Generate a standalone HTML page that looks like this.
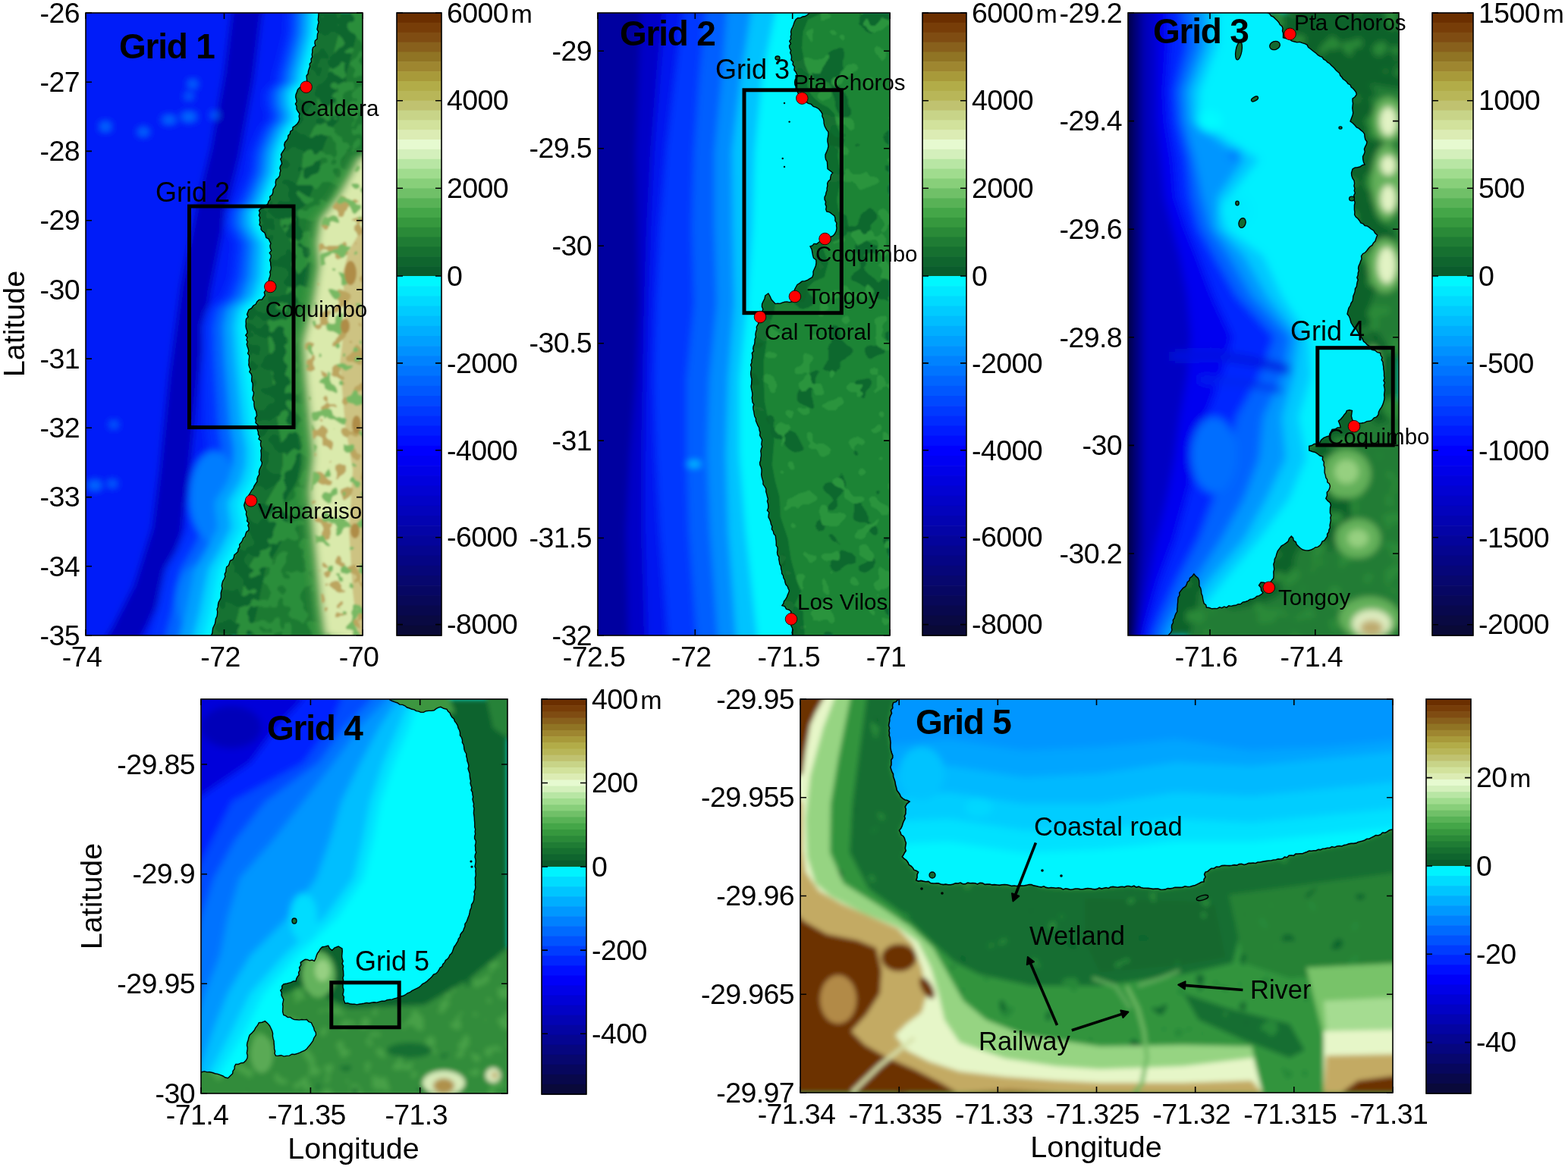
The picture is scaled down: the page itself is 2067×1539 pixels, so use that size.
<!DOCTYPE html><html><head><meta charset="utf-8"><style>html,body{margin:0;padding:0;background:#fff;overflow:hidden}svg{display:block}.t{font-family:'Liberation Sans',Arial,Helvetica,sans-serif;font-size:37.5px;fill:#000;letter-spacing:-0.6px}.tm{font-family:'Liberation Sans',Arial,Helvetica,sans-serif;font-size:37.5px;fill:#000;text-anchor:middle;letter-spacing:-0.6px}.te{font-family:'Liberation Sans',Arial,Helvetica,sans-serif;font-size:37.5px;fill:#000;text-anchor:end;letter-spacing:-0.6px}.b{font-family:'Liberation Sans',Arial,Helvetica,sans-serif;font-size:46px;font-weight:bold;fill:#000;letter-spacing:-1.2px}.s{font-family:'Liberation Sans',Arial,Helvetica,sans-serif;font-size:29.5px;fill:#000}.r{font-family:'Liberation Sans',Arial,Helvetica,sans-serif;font-size:36px;fill:#000}.a{font-family:'Liberation Sans',Arial,Helvetica,sans-serif;font-size:34.5px;fill:#000}.lab{font-family:'Liberation Sans',Arial,Helvetica,sans-serif;font-size:39.5px;fill:#000;text-anchor:middle}</style></head><body>
<svg width="2067" height="1539" viewBox="0 0 2067 1539">
<defs>
<clipPath id="c1"><rect x="113" y="17" width="365" height="821"/></clipPath>
<clipPath id="c2"><rect x="788" y="17" width="385" height="821"/></clipPath>
<clipPath id="c3"><rect x="1487" y="17" width="357" height="821"/></clipPath>
<clipPath id="c4"><rect x="265" y="922" width="404" height="520"/></clipPath>
<clipPath id="c5"><rect x="1055" y="922" width="781" height="519"/></clipPath>
<filter id="mt0" filterUnits="userSpaceOnUse" x="108" y="12" width="375" height="831" color-interpolation-filters="sRGB"><feTurbulence type="fractalNoise" baseFrequency="0.045" numOctaves="2" seed="11"/><feColorMatrix type="matrix" values="0 0 0 0 0.173  0 0 0 0 0.557  0 0 0 0 0.227  1 0 0 0 0"/><feComponentTransfer><feFuncA type="discrete" tableValues="0 0 0 0 1 1 1 1"/></feComponentTransfer></filter><filter id="mt1" filterUnits="userSpaceOnUse" x="108" y="12" width="375" height="831" color-interpolation-filters="sRGB"><feTurbulence type="fractalNoise" baseFrequency="0.05" numOctaves="2" seed="21"/><feColorMatrix type="matrix" values="0 0 0 0 0.737  0 0 0 0 0.647  0 0 0 0 0.373  1 0 0 0 0"/><feComponentTransfer><feFuncA type="discrete" tableValues="0 0 0 0 0 1 1 1"/></feComponentTransfer></filter><filter id="mt2" filterUnits="userSpaceOnUse" x="108" y="12" width="375" height="831" color-interpolation-filters="sRGB"><feTurbulence type="fractalNoise" baseFrequency="0.05" numOctaves="2" seed="5"/><feColorMatrix type="matrix" values="0 0 0 0 0.471  0 0 0 0 0.725  0 0 0 0 0.392  1 0 0 0 0"/><feComponentTransfer><feFuncA type="discrete" tableValues="0 0 0 0 0 1 1 1"/></feComponentTransfer></filter><filter id="mt3" filterUnits="userSpaceOnUse" x="783" y="12" width="395" height="831" color-interpolation-filters="sRGB"><feTurbulence type="fractalNoise" baseFrequency="0.025" numOctaves="2" seed="3"/><feColorMatrix type="matrix" values="0 0 0 0 0.110  0 0 0 0 0.518  0 0 0 0 0.212  1 0 0 0 0"/><feComponentTransfer><feFuncA type="discrete" tableValues="0 0 0 1 1 1 1 1"/></feComponentTransfer></filter><filter id="mt4" filterUnits="userSpaceOnUse" x="783" y="12" width="395" height="831" color-interpolation-filters="sRGB"><feTurbulence type="fractalNoise" baseFrequency="0.04" numOctaves="2" seed="8"/><feColorMatrix type="matrix" values="0 0 0 0 0.173  0 0 0 0 0.580  0 0 0 0 0.235  1 0 0 0 0"/><feComponentTransfer><feFuncA type="discrete" tableValues="0 0 0 0 0 1 1 1"/></feComponentTransfer></filter><filter id="mt5" filterUnits="userSpaceOnUse" x="1482" y="12" width="367" height="831" color-interpolation-filters="sRGB"><feTurbulence type="fractalNoise" baseFrequency="0.04" numOctaves="2" seed="13"/><feColorMatrix type="matrix" values="0 0 0 0 0.165  0 0 0 0 0.541  0 0 0 0 0.220  1 0 0 0 0"/><feComponentTransfer><feFuncA type="discrete" tableValues="0 0 0 0 0 1 1 1"/></feComponentTransfer></filter><filter id="mt6" filterUnits="userSpaceOnUse" x="260" y="917" width="414" height="530" color-interpolation-filters="sRGB"><feTurbulence type="fractalNoise" baseFrequency="0.05" numOctaves="2" seed="17"/><feColorMatrix type="matrix" values="0 0 0 0 0.275  0 0 0 0 0.627  0 0 0 0 0.275  1 0 0 0 0"/><feComponentTransfer><feFuncA type="discrete" tableValues="0 0 0 0 0 1 1 1"/></feComponentTransfer></filter><filter id="mt7" filterUnits="userSpaceOnUse" x="260" y="917" width="414" height="530" color-interpolation-filters="sRGB"><feTurbulence type="fractalNoise" baseFrequency="0.04" numOctaves="2" seed="19"/><feColorMatrix type="matrix" values="0 0 0 0 0.098  0 0 0 0 0.439  0 0 0 0 0.188  1 0 0 0 0"/><feComponentTransfer><feFuncA type="discrete" tableValues="1 1 0 0 0 0 0 0"/></feComponentTransfer></filter><filter id="mt8" filterUnits="userSpaceOnUse" x="1050" y="917" width="791" height="529" color-interpolation-filters="sRGB"><feTurbulence type="fractalNoise" baseFrequency="0.035" numOctaves="2" seed="23"/><feColorMatrix type="matrix" values="0 0 0 0 0.157  0 0 0 0 0.533  0 0 0 0 0.220  1 0 0 0 0"/><feComponentTransfer><feFuncA type="discrete" tableValues="0 0 0 0 0 0 1 1"/></feComponentTransfer></filter><filter id="mt9" filterUnits="userSpaceOnUse" x="1050" y="917" width="791" height="529" color-interpolation-filters="sRGB"><feTurbulence type="fractalNoise" baseFrequency="0.035" numOctaves="2" seed="29"/><feColorMatrix type="matrix" values="0 0 0 0 0.063  0 0 0 0 0.400  0 0 0 0 0.176  1 0 0 0 0"/><feComponentTransfer><feFuncA type="discrete" tableValues="1 1 0 0 0 0 0 0"/></feComponentTransfer></filter><filter id="b1" x="-20%" y="-20%" width="140%" height="140%"><feGaussianBlur stdDeviation="1"/></filter><filter id="b1_5" x="-20%" y="-20%" width="140%" height="140%"><feGaussianBlur stdDeviation="1.5"/></filter><filter id="b3" x="-20%" y="-20%" width="140%" height="140%"><feGaussianBlur stdDeviation="3"/></filter><filter id="b4" x="-20%" y="-20%" width="140%" height="140%"><feGaussianBlur stdDeviation="4"/></filter><filter id="b5" x="-20%" y="-20%" width="140%" height="140%"><feGaussianBlur stdDeviation="5"/></filter><filter id="b6" x="-20%" y="-20%" width="140%" height="140%"><feGaussianBlur stdDeviation="6"/></filter>
</defs>
<rect width="2067" height="1539" fill="#fff"/>
<g clip-path="url(#c1)">
<g filter="url(#b5)"><rect x="93" y="-3" width="405" height="861" fill="rgb(0,28,248)"/><path d="M332.0 0.0 L325.0 17.0 L315.0 100.0 L297.0 200.0 L279.0 274.0 L258.0 380.0 L242.0 500.0 L230.0 620.0 L220.0 700.0 L195.0 780.0 L165.0 838.0 L150.0 860.0" fill="none" stroke="rgb(0,0,190)" stroke-width="40"/><path d="M378.0 5.0 L378.0 17.0 L376.5 45.0 L368.0 78.0 L362.0 100.0 L362.6 108.0 L350.5 118.0 L348.0 125.0 L349.0 140.0 L353.0 150.0 L352.0 160.0 L344.0 168.0 L336.0 185.0 L330.0 201.0 L327.0 228.0 L318.0 250.0 L309.4 269.0 L297.1 277.5 L296.0 296.6 L302.9 310.0 L308.9 321.0 L303.9 365.0 L293.4 392.0 L278.9 403.0 L272.4 408.6 L266.6 430.0 L266.8 475.0 L269.0 530.0 L270.2 563.6 L273.8 591.0 L271.9 613.0 L264.1 635.0 L253.8 650.0 L245.3 663.0 L247.8 696.0 L233.5 724.0 L217.5 751.0 L211.5 779.0 L206.2 806.6 L198.0 838.0 L194.5 850.0 L508.0 868.0 L508.0 -13.0 Z" fill="rgb(0,50,255)"/><path d="M388.8 5.0 L388.8 17.0 L387.3 45.0 L378.8 78.0 L372.8 100.0 L373.4 108.0 L361.3 118.0 L358.8 125.0 L359.8 140.0 L363.8 150.0 L362.8 160.0 L354.8 168.0 L346.8 185.0 L340.8 201.0 L337.8 228.0 L328.8 250.0 L320.6 269.0 L308.6 277.5 L307.8 296.6 L315.0 310.0 L321.3 321.0 L317.2 365.0 L307.3 392.0 L293.1 403.0 L286.7 408.6 L281.4 430.0 L282.5 475.0 L286.0 530.0 L287.9 563.6 L292.1 591.0 L290.7 613.0 L283.3 635.0 L273.4 650.0 L265.2 663.0 L268.5 696.0 L254.2 724.0 L238.2 751.0 L232.2 779.0 L226.9 806.6 L218.7 838.0 L215.2 850.0 L508.0 868.0 L508.0 -13.0 Z" fill="rgb(0,100,255)"/><ellipse cx="282" cy="655" rx="32" ry="60" fill="rgb(0,125,255)"/><ellipse cx="262" cy="790" rx="30" ry="45" fill="rgb(0,125,255)"/><path d="M398.4 5.0 L398.4 17.0 L396.9 45.0 L388.4 78.0 L382.4 100.0 L383.0 108.0 L370.9 118.0 L368.4 125.0 L369.4 140.0 L373.4 150.0 L372.4 160.0 L364.4 168.0 L356.4 185.0 L350.4 201.0 L347.4 228.0 L338.4 250.0 L330.6 269.0 L318.7 277.5 L318.3 296.6 L325.8 310.0 L332.3 321.0 L329.0 365.0 L319.7 392.0 L305.7 403.0 L299.4 408.6 L294.5 430.0 L296.5 475.0 L301.1 530.0 L303.6 563.6 L308.4 591.0 L307.4 613.0 L300.5 635.0 L290.8 650.0 L282.8 663.0 L286.8 696.0 L272.6 724.0 L256.6 751.0 L250.6 779.0 L245.3 806.6 L237.1 838.0 L233.6 850.0 L508.0 868.0 L508.0 -13.0 Z" fill="rgb(0,160,255)"/><path d="M408.0 5.0 L408.0 17.0 L406.5 45.0 L398.0 78.0 L392.0 100.0 L392.6 108.0 L380.5 118.0 L378.0 125.0 L379.0 140.0 L383.0 150.0 L382.0 160.0 L374.0 168.0 L366.0 185.0 L360.0 201.0 L357.0 228.0 L348.0 250.0 L340.5 269.0 L328.8 277.5 L328.9 296.6 L336.5 310.0 L343.3 321.0 L340.9 365.0 L332.0 392.0 L318.3 403.0 L312.1 408.6 L307.6 430.0 L310.5 475.0 L316.2 530.0 L319.3 563.6 L324.7 591.0 L324.1 613.0 L317.6 635.0 L308.2 650.0 L300.5 663.0 L305.1 696.0 L291.0 724.0 L275.0 751.0 L269.0 779.0 L263.7 806.6 L255.5 838.0 L252.0 850.0 L508.0 868.0 L508.0 -13.0 Z" fill="rgb(0,215,255)"/><path d="M415.2 5.0 L415.2 17.0 L413.7 45.0 L405.2 78.0 L399.2 100.0 L399.8 108.0 L387.7 118.0 L385.2 125.0 L386.2 140.0 L390.2 150.0 L389.2 160.0 L381.2 168.0 L373.2 185.0 L367.2 201.0 L364.2 228.0 L355.2 250.0 L348.0 269.0 L336.4 277.5 L336.7 296.6 L344.6 310.0 L351.5 321.0 L349.8 365.0 L341.3 392.0 L327.7 403.0 L321.6 408.6 L317.4 430.0 L321.0 475.0 L327.5 530.0 L331.1 563.6 L336.9 591.0 L336.7 613.0 L330.4 635.0 L321.3 650.0 L313.8 663.0 L318.8 696.0 L304.8 724.0 L288.8 751.0 L282.8 779.0 L277.5 806.6 L269.3 838.0 L265.8 850.0 L508.0 868.0 L508.0 -13.0 Z" fill="rgb(0,245,255)"/><ellipse cx="139" cy="167" rx="7" ry="6" fill="rgb(0,110,255)"/><ellipse cx="249" cy="154" rx="10" ry="6" fill="rgb(0,110,255)"/><ellipse cx="223" cy="158" rx="9" ry="5" fill="rgb(0,110,255)"/><ellipse cx="189" cy="174" rx="7" ry="5" fill="rgb(0,110,255)"/><ellipse cx="283" cy="152" rx="5" ry="4" fill="rgb(0,110,255)"/><ellipse cx="254" cy="111" rx="6" ry="5" fill="rgb(0,110,255)"/><ellipse cx="249" cy="127" rx="5" ry="4" fill="rgb(0,110,255)"/><ellipse cx="125" cy="640" rx="9" ry="6" fill="rgb(0,110,255)"/><ellipse cx="148" cy="638" rx="6" ry="4" fill="rgb(0,110,255)"/><ellipse cx="150" cy="560" rx="5" ry="4" fill="rgb(0,110,255)"/></g>
<clipPath id="l1"><path d="M420.0 5.0 L420.1 8.0 L419.8 11.0 L418.8 14.0 L420.0 17.0 L419.9 20.1 L419.6 23.2 L419.3 26.3 L420.2 29.5 L419.1 32.6 L418.6 35.6 L418.0 38.7 L419.8 41.9 L418.5 45.0 L418.3 48.1 L418.1 51.3 L415.3 53.8 L414.9 56.9 L415.9 60.3 L412.6 62.7 L411.8 65.7 L411.9 68.9 L411.2 71.9 L411.7 75.2 L410.0 78.0 L410.5 81.5 L408.2 84.3 L408.6 87.8 L407.4 90.8 L406.4 93.9 L406.1 97.2 L404.0 100.0 L404.4 104.0 L404.6 108.0 L402.3 110.1 L399.1 111.3 L397.3 114.0 L394.7 115.7 L392.5 118.0 L391.3 121.5 L390.0 125.0 L389.7 128.0 L390.5 131.0 L391.2 134.0 L389.4 137.1 L391.0 140.0 L391.0 143.8 L392.8 147.0 L395.0 150.0 L394.1 153.3 L394.8 156.7 L394.0 160.0 L391.9 163.2 L389.1 165.8 L386.0 168.0 L385.8 171.3 L382.7 173.3 L382.3 176.6 L379.8 178.9 L379.6 182.3 L378.0 185.0 L375.6 187.7 L374.7 191.1 L375.7 195.1 L374.0 198.1 L372.0 201.0 L370.5 203.9 L371.4 207.0 L369.7 209.9 L371.0 213.0 L371.5 216.1 L369.6 219.0 L368.9 221.9 L370.0 225.1 L369.0 228.0 L368.8 231.6 L366.9 234.5 L363.9 236.9 L363.2 240.3 L363.6 244.1 L361.9 247.1 L360.0 250.0 L359.9 253.6 L358.8 256.8 L355.7 259.2 L356.2 263.0 L354.0 265.8 L353.0 269.0 L350.2 271.2 L347.8 273.9 L344.0 274.9 L341.5 277.5 L342.6 280.7 L341.3 283.9 L342.8 287.0 L342.1 290.2 L342.7 293.4 L342.0 296.6 L344.2 298.9 L344.1 302.6 L346.1 305.1 L348.9 307.0 L350.0 310.0 L350.8 313.3 L354.2 315.1 L355.5 318.1 L357.0 321.0 L355.9 324.1 L356.4 327.3 L357.8 330.5 L355.3 333.5 L357.3 336.7 L357.1 339.9 L355.6 343.0 L356.7 346.2 L356.7 349.3 L357.3 352.5 L357.1 355.6 L355.7 358.7 L356.5 361.9 L355.7 365.0 L354.5 367.9 L354.2 371.1 L353.1 374.0 L350.8 376.6 L351.2 380.0 L350.0 382.9 L348.3 385.7 L349.3 389.3 L347.5 392.0 L345.4 395.0 L341.4 395.5 L338.8 397.9 L337.1 401.3 L334.0 403.0 L331.6 406.4 L328.0 408.6 L326.8 411.5 L325.6 414.5 L327.1 417.9 L324.5 420.6 L324.1 423.7 L324.3 426.9 L324.0 430.0 L324.5 433.0 L325.6 435.9 L326.1 438.9 L323.8 442.1 L326.1 444.9 L325.0 448.1 L326.5 450.9 L325.2 454.1 L326.1 457.0 L327.2 459.9 L327.8 462.9 L326.6 466.1 L328.7 468.9 L328.5 471.9 L328.0 475.0 L328.2 478.1 L327.8 481.2 L328.8 484.2 L330.2 487.1 L328.8 490.4 L331.2 493.2 L332.1 496.2 L331.8 499.4 L331.7 502.5 L333.1 505.4 L333.2 508.5 L333.0 511.6 L332.9 514.7 L334.5 517.6 L334.2 520.8 L333.1 524.0 L333.3 527.1 L335.0 530.0 L334.9 533.1 L335.2 536.2 L335.9 539.2 L337.5 542.1 L338.1 545.1 L338.5 548.2 L336.4 551.5 L337.4 554.5 L337.0 557.6 L340.0 560.4 L339.0 563.6 L339.3 566.7 L340.4 569.7 L340.4 572.9 L342.2 575.7 L341.0 579.1 L344.2 581.6 L343.5 584.9 L343.7 588.1 L345.0 591.0 L343.9 594.1 L344.3 597.3 L344.4 600.4 L344.2 603.6 L343.8 606.7 L345.4 609.9 L345.0 613.0 L343.6 616.0 L342.2 619.0 L341.4 622.2 L341.8 625.6 L339.9 628.5 L338.9 631.6 L339.0 635.0 L337.0 637.9 L335.1 640.8 L333.9 644.2 L331.6 646.9 L330.0 650.0 L327.9 653.1 L327.3 657.1 L324.1 659.6 L322.6 663.0 L321.7 666.2 L322.5 669.2 L323.4 672.1 L324.9 674.9 L324.4 678.1 L325.3 681.0 L326.2 684.0 L325.6 687.2 L328.2 689.8 L326.8 693.1 L328.0 696.0 L327.8 699.4 L324.9 701.5 L323.8 704.4 L323.1 707.5 L320.5 709.8 L319.6 712.8 L317.9 715.5 L315.7 717.9 L316.0 721.5 L314.0 724.0 L313.6 727.4 L311.3 729.7 L308.8 731.8 L308.3 735.2 L306.8 738.0 L303.4 739.6 L302.4 742.7 L301.3 745.7 L298.7 747.7 L298.0 751.0 L297.8 754.2 L296.2 757.1 L296.8 760.5 L295.5 763.5 L293.8 766.4 L292.9 769.4 L292.3 772.6 L293.0 776.0 L292.0 779.0 L291.2 782.0 L291.3 785.2 L291.2 788.4 L289.7 791.3 L288.1 794.2 L287.5 797.2 L287.3 800.4 L286.1 803.3 L286.7 806.6 L286.5 809.9 L286.0 813.1 L284.4 816.1 L284.0 819.3 L283.4 822.5 L282.0 825.5 L280.6 828.5 L280.2 831.7 L279.8 835.0 L278.5 838.0 L276.7 840.7 L275.5 843.6 L276.0 847.0 L275.0 850.0 L498.0 858.0 L498.0 -3.0 Z"/></clipPath>
<clipPath id="p1pale"><path d="M478.0 205.0 L465.0 230.0 L448.0 260.0 L425.0 290.0 L420.0 320.0 L423.0 350.0 L415.0 400.0 L402.0 450.0 L405.0 500.0 L410.0 550.0 L415.0 600.0 L410.0 650.0 L415.0 700.0 L420.0 750.0 L425.0 800.0 L430.0 838.0 L490.0 850.0 L490.0 205.0 Z"/></clipPath>
<g clip-path="url(#l1)"><g filter="url(#b1_5)"><rect x="113" y="17" width="365" height="821" fill="rgb(14,102,46)"/><path d="M472.0 5.0 L472.0 17.0 L470.5 45.0 L462.0 78.0 L456.0 100.0 L456.6 108.0 L444.5 118.0 L442.0 125.0 L443.0 140.0 L447.0 150.0 L446.0 160.0 L438.0 168.0 L430.0 185.0 L424.0 201.0 L421.0 228.0 L412.0 250.0 L405.0 269.0 L393.5 277.5 L394.0 296.6 L402.0 310.0 L409.0 321.0 L407.7 365.0 L399.5 392.0 L386.0 403.0 L380.0 408.6 L376.0 430.0 L380.0 475.0 L387.0 530.0 L391.0 563.6 L397.0 591.0 L397.0 613.0 L391.0 635.0 L382.0 650.0 L374.6 663.0 L380.0 696.0 L366.0 724.0 L350.0 751.0 L344.0 779.0 L338.7 806.6 L330.5 838.0 L327.0 850.0 L508.0 868.0 L508.0 -13.0 Z" fill="rgb(30,122,50)"/><rect x="108" y="12" width="375" height="831" filter="url(#mt0)"/><path d="M420.0 5.0 L420.0 17.0 L418.5 45.0 L410.0 78.0 L404.0 100.0 L404.6 108.0 L392.5 118.0 L390.0 125.0 L391.0 140.0 L395.0 150.0 L394.0 160.0 L386.0 168.0 L378.0 185.0 L372.0 201.0 L369.0 228.0 L360.0 250.0 L353.0 269.0 L341.5 277.5 L342.0 296.6 L350.0 310.0 L357.0 321.0 L355.7 365.0 L347.5 392.0 L334.0 403.0 L328.0 408.6 L324.0 430.0 L328.0 475.0 L335.0 530.0 L339.0 563.6 L345.0 591.0 L345.0 613.0 L339.0 635.0 L330.0 650.0 L322.6 663.0 L328.0 696.0 L314.0 724.0 L298.0 751.0 L292.0 779.0 L286.7 806.6 L278.5 838.0 L275.0 850.0 L303.0 850.0 L306.5 838.0 L314.7 806.6 L320.0 779.0 L326.0 751.0 L342.0 724.0 L356.0 696.0 L350.6 663.0 L358.0 650.0 L367.0 635.0 L373.0 613.0 L373.0 591.0 L367.0 563.6 L363.0 530.0 L356.0 475.0 L352.0 430.0 L356.0 408.6 L362.0 403.0 L375.5 392.0 L383.7 365.0 L385.0 321.0 L378.0 310.0 L370.0 296.6 L369.5 277.5 L381.0 269.0 L388.0 250.0 L397.0 228.0 L400.0 201.0 L406.0 185.0 L414.0 168.0 L422.0 160.0 L423.0 150.0 L419.0 140.0 L418.0 125.0 L420.5 118.0 L432.6 108.0 L432.0 100.0 L438.0 78.0 L446.5 45.0 L448.0 17.0 L448.0 5.0 Z" fill="rgb(14,102,46)" opacity="0.7"/><g filter="url(#b5)"><path d="M466.0 205.0 L453.0 230.0 L436.0 260.0 L413.0 290.0 L408.0 320.0 L411.0 350.0 L403.0 400.0 L390.0 450.0 L393.0 500.0 L398.0 550.0 L403.0 600.0 L398.0 650.0 L403.0 700.0 L408.0 750.0 L413.0 800.0 L418.0 838.0 L478.0 850.0 L478.0 205.0 Z" fill="rgb(80,160,78)"/><path d="M478.0 205.0 L465.0 230.0 L448.0 260.0 L425.0 290.0 L420.0 320.0 L423.0 350.0 L415.0 400.0 L402.0 450.0 L405.0 500.0 L410.0 550.0 L415.0 600.0 L410.0 650.0 L415.0 700.0 L420.0 750.0 L425.0 800.0 L430.0 838.0 L490.0 850.0 L490.0 205.0 Z" fill="rgb(218,234,172)"/></g><path d="M478.0 300.0 L460.0 330.0 L452.0 360.0 L455.0 420.0 L448.0 480.0 L455.0 560.0 L465.0 620.0 L460.0 700.0 L465.0 780.0 L472.0 838.0 L490.0 850.0 L490.0 300.0 Z" fill="rgb(205,195,130)"/><g clip-path="url(#p1pale)"><rect x="108" y="12" width="375" height="831" filter="url(#mt1)"/><rect x="108" y="12" width="375" height="831" filter="url(#mt2)"/></g><ellipse cx="462" cy="360" rx="8" ry="16" fill="rgb(175,140,70)"/><ellipse cx="470" cy="560" rx="6" ry="12" fill="rgb(175,140,70)"/><ellipse cx="455" cy="430" rx="6" ry="10" fill="rgb(175,140,70)"/><ellipse cx="468" cy="700" rx="6" ry="10" fill="rgb(175,140,70)"/></g></g>
<path d="M420.0 5.0 L420.1 8.0 L419.8 11.0 L418.8 14.0 L420.0 17.0 L419.9 20.1 L419.6 23.2 L419.3 26.3 L420.2 29.5 L419.1 32.6 L418.6 35.6 L418.0 38.7 L419.8 41.9 L418.5 45.0 L418.3 48.1 L418.1 51.3 L415.3 53.8 L414.9 56.9 L415.9 60.3 L412.6 62.7 L411.8 65.7 L411.9 68.9 L411.2 71.9 L411.7 75.2 L410.0 78.0 L410.5 81.5 L408.2 84.3 L408.6 87.8 L407.4 90.8 L406.4 93.9 L406.1 97.2 L404.0 100.0 L404.4 104.0 L404.6 108.0 L402.3 110.1 L399.1 111.3 L397.3 114.0 L394.7 115.7 L392.5 118.0 L391.3 121.5 L390.0 125.0 L389.7 128.0 L390.5 131.0 L391.2 134.0 L389.4 137.1 L391.0 140.0 L391.0 143.8 L392.8 147.0 L395.0 150.0 L394.1 153.3 L394.8 156.7 L394.0 160.0 L391.9 163.2 L389.1 165.8 L386.0 168.0 L385.8 171.3 L382.7 173.3 L382.3 176.6 L379.8 178.9 L379.6 182.3 L378.0 185.0 L375.6 187.7 L374.7 191.1 L375.7 195.1 L374.0 198.1 L372.0 201.0 L370.5 203.9 L371.4 207.0 L369.7 209.9 L371.0 213.0 L371.5 216.1 L369.6 219.0 L368.9 221.9 L370.0 225.1 L369.0 228.0 L368.8 231.6 L366.9 234.5 L363.9 236.9 L363.2 240.3 L363.6 244.1 L361.9 247.1 L360.0 250.0 L359.9 253.6 L358.8 256.8 L355.7 259.2 L356.2 263.0 L354.0 265.8 L353.0 269.0 L350.2 271.2 L347.8 273.9 L344.0 274.9 L341.5 277.5 L342.6 280.7 L341.3 283.9 L342.8 287.0 L342.1 290.2 L342.7 293.4 L342.0 296.6 L344.2 298.9 L344.1 302.6 L346.1 305.1 L348.9 307.0 L350.0 310.0 L350.8 313.3 L354.2 315.1 L355.5 318.1 L357.0 321.0 L355.9 324.1 L356.4 327.3 L357.8 330.5 L355.3 333.5 L357.3 336.7 L357.1 339.9 L355.6 343.0 L356.7 346.2 L356.7 349.3 L357.3 352.5 L357.1 355.6 L355.7 358.7 L356.5 361.9 L355.7 365.0 L354.5 367.9 L354.2 371.1 L353.1 374.0 L350.8 376.6 L351.2 380.0 L350.0 382.9 L348.3 385.7 L349.3 389.3 L347.5 392.0 L345.4 395.0 L341.4 395.5 L338.8 397.9 L337.1 401.3 L334.0 403.0 L331.6 406.4 L328.0 408.6 L326.8 411.5 L325.6 414.5 L327.1 417.9 L324.5 420.6 L324.1 423.7 L324.3 426.9 L324.0 430.0 L324.5 433.0 L325.6 435.9 L326.1 438.9 L323.8 442.1 L326.1 444.9 L325.0 448.1 L326.5 450.9 L325.2 454.1 L326.1 457.0 L327.2 459.9 L327.8 462.9 L326.6 466.1 L328.7 468.9 L328.5 471.9 L328.0 475.0 L328.2 478.1 L327.8 481.2 L328.8 484.2 L330.2 487.1 L328.8 490.4 L331.2 493.2 L332.1 496.2 L331.8 499.4 L331.7 502.5 L333.1 505.4 L333.2 508.5 L333.0 511.6 L332.9 514.7 L334.5 517.6 L334.2 520.8 L333.1 524.0 L333.3 527.1 L335.0 530.0 L334.9 533.1 L335.2 536.2 L335.9 539.2 L337.5 542.1 L338.1 545.1 L338.5 548.2 L336.4 551.5 L337.4 554.5 L337.0 557.6 L340.0 560.4 L339.0 563.6 L339.3 566.7 L340.4 569.7 L340.4 572.9 L342.2 575.7 L341.0 579.1 L344.2 581.6 L343.5 584.9 L343.7 588.1 L345.0 591.0 L343.9 594.1 L344.3 597.3 L344.4 600.4 L344.2 603.6 L343.8 606.7 L345.4 609.9 L345.0 613.0 L343.6 616.0 L342.2 619.0 L341.4 622.2 L341.8 625.6 L339.9 628.5 L338.9 631.6 L339.0 635.0 L337.0 637.9 L335.1 640.8 L333.9 644.2 L331.6 646.9 L330.0 650.0 L327.9 653.1 L327.3 657.1 L324.1 659.6 L322.6 663.0 L321.7 666.2 L322.5 669.2 L323.4 672.1 L324.9 674.9 L324.4 678.1 L325.3 681.0 L326.2 684.0 L325.6 687.2 L328.2 689.8 L326.8 693.1 L328.0 696.0 L327.8 699.4 L324.9 701.5 L323.8 704.4 L323.1 707.5 L320.5 709.8 L319.6 712.8 L317.9 715.5 L315.7 717.9 L316.0 721.5 L314.0 724.0 L313.6 727.4 L311.3 729.7 L308.8 731.8 L308.3 735.2 L306.8 738.0 L303.4 739.6 L302.4 742.7 L301.3 745.7 L298.7 747.7 L298.0 751.0 L297.8 754.2 L296.2 757.1 L296.8 760.5 L295.5 763.5 L293.8 766.4 L292.9 769.4 L292.3 772.6 L293.0 776.0 L292.0 779.0 L291.2 782.0 L291.3 785.2 L291.2 788.4 L289.7 791.3 L288.1 794.2 L287.5 797.2 L287.3 800.4 L286.1 803.3 L286.7 806.6 L286.5 809.9 L286.0 813.1 L284.4 816.1 L284.0 819.3 L283.4 822.5 L282.0 825.5 L280.6 828.5 L280.2 831.7 L279.8 835.0 L278.5 838.0 L276.7 840.7 L275.5 843.6 L276.0 847.0 L275.0 850.0" fill="none" stroke="#000" stroke-width="1.4"/>
</g>
<g clip-path="url(#c2)">
<g filter="url(#b5)"><rect x="758" y="-13" width="445" height="881" fill="rgb(0,0,160)"/><path d="M845.0 -13.0 L845.0 17.0 L842.0 100.0 L838.0 200.0 L840.0 300.0 L842.0 400.0 L838.0 500.0 L830.0 600.0 L825.0 700.0 L828.0 838.0 L828.0 868.0 L1203.0 868.0 L1203.0 -13.0 Z" fill="rgb(0,0,200)"/><path d="M875.0 -13.0 L875.0 17.0 L868.0 100.0 L860.0 200.0 L855.0 300.0 L852.0 400.0 L850.0 500.0 L848.0 600.0 L848.0 700.0 L852.0 838.0 L852.0 868.0 L1203.0 868.0 L1203.0 -13.0 Z" fill="rgb(0,20,240)"/><path d="M900.0 -13.0 L900.0 17.0 L890.0 100.0 L878.0 200.0 L870.0 300.0 L865.0 400.0 L862.0 500.0 L865.0 600.0 L870.0 700.0 L880.0 838.0 L880.0 868.0 L1203.0 868.0 L1203.0 -13.0 Z" fill="rgb(0,55,255)"/><path d="M930.0 -13.0 L930.0 17.0 L922.0 100.0 L915.0 200.0 L912.0 300.0 L915.0 400.0 L905.0 500.0 L905.0 600.0 L908.0 700.0 L918.0 838.0 L918.0 868.0 L1203.0 868.0 L1203.0 -13.0 Z" fill="rgb(0,95,255)"/><path d="M958.0 -13.0 L958.0 17.0 L952.0 100.0 L942.0 200.0 L942.0 300.0 L945.0 400.0 L935.0 500.0 L932.0 600.0 L936.0 700.0 L946.0 838.0 L946.0 868.0 L1203.0 868.0 L1203.0 -13.0 Z" fill="rgb(0,140,255)"/><path d="M990.0 -13.0 L990.0 17.0 L977.0 100.0 L965.0 200.0 L966.0 300.0 L968.0 400.0 L960.0 500.0 L957.0 600.0 L960.0 700.0 L970.0 838.0 L970.0 868.0 L1203.0 868.0 L1203.0 -13.0 Z" fill="rgb(0,195,255)"/><path d="M1022.0 -13.0 L1022.0 17.0 L1005.0 100.0 L995.0 200.0 L992.0 300.0 L985.0 400.0 L975.0 500.0 L975.0 600.0 L983.0 700.0 L998.0 838.0 L998.0 868.0 L1203.0 868.0 L1203.0 -13.0 Z" fill="rgb(0,245,255)"/><ellipse cx="915" cy="612" rx="9" ry="4" fill="rgb(0,200,255)"/></g>
<clipPath id="l2"><path d="M1070.0 5.0 L1069.2 8.2 L1068.0 11.3 L1067.1 14.4 L1066.7 17.7 L1064.1 19.8 L1061.3 21.5 L1058.0 22.0 L1055.1 23.6 L1051.6 23.8 L1049.0 25.8 L1047.3 28.9 L1046.2 32.2 L1045.0 35.5 L1043.4 38.6 L1042.5 42.0 L1043.1 45.1 L1042.2 48.2 L1042.7 51.3 L1040.7 54.2 L1042.5 57.4 L1040.5 60.4 L1041.0 63.5 L1042.6 66.4 L1041.7 69.7 L1043.1 72.6 L1043.5 75.7 L1043.0 79.0 L1045.6 81.7 L1045.0 85.0 L1047.4 88.0 L1046.9 92.2 L1049.2 95.2 L1050.6 98.6 L1050.9 102.1 L1048.2 105.1 L1047.6 108.4 L1048.0 112.0 L1050.2 115.3 L1050.8 119.3 L1052.0 123.0 L1055.2 125.4 L1057.0 129.0 L1060.1 131.1 L1062.4 134.1 L1065.4 136.3 L1069.3 137.4 L1072.3 140.3 L1076.0 141.7 L1079.4 143.7 L1081.9 146.7 L1084.0 150.0 L1083.9 153.3 L1085.4 156.4 L1086.0 159.6 L1086.2 162.8 L1087.0 166.0 L1088.3 168.7 L1089.8 171.4 L1091.8 173.8 L1092.0 177.0 L1091.5 180.2 L1090.9 183.4 L1090.9 186.6 L1091.6 189.8 L1092.0 193.0 L1091.0 196.8 L1089.6 200.4 L1088.0 204.0 L1088.0 207.2 L1088.6 210.3 L1090.4 213.2 L1090.6 216.3 L1090.8 219.4 L1091.0 222.6 L1094.4 225.3 L1097.8 228.0 L1095.7 230.4 L1094.9 233.5 L1094.5 236.8 L1092.0 239.0 L1090.6 241.8 L1090.9 245.0 L1090.1 248.0 L1090.2 251.1 L1089.0 254.0 L1088.5 257.1 L1087.0 259.9 L1087.0 263.0 L1088.5 266.0 L1088.0 269.4 L1089.4 272.5 L1088.7 275.9 L1089.7 279.0 L1093.7 279.9 L1096.8 282.3 L1100.0 284.6 L1101.0 287.8 L1100.9 291.1 L1102.9 294.1 L1102.5 297.5 L1103.0 300.8 L1102.2 305.1 L1100.0 309.0 L1097.8 311.2 L1095.0 312.5 L1091.9 313.3 L1090.0 316.0 L1086.3 317.3 L1082.3 317.4 L1079.0 319.7 L1076.6 321.7 L1073.1 321.4 L1070.9 324.0 L1068.0 325.0 L1070.1 328.8 L1070.8 333.0 L1071.5 336.6 L1072.5 340.2 L1075.8 342.8 L1076.0 346.6 L1075.3 350.8 L1073.5 354.7 L1072.0 358.1 L1072.1 362.0 L1070.8 365.5 L1067.7 367.4 L1064.5 369.3 L1061.1 370.6 L1057.3 370.9 L1054.3 373.4 L1051.0 375.5 L1049.0 379.0 L1047.2 382.5 L1047.7 386.3 L1047.0 390.0 L1046.5 394.3 L1043.8 397.8 L1040.7 398.6 L1037.5 397.9 L1034.4 398.2 L1031.3 399.1 L1028.3 400.4 L1025.1 400.1 L1022.0 400.6 L1019.4 397.8 L1016.9 395.0 L1015.1 390.9 L1012.8 387.0 L1008.8 389.8 L1007.9 394.0 L1006.0 397.8 L1004.6 401.0 L1004.4 404.3 L1005.8 407.8 L1004.7 411.0 L1003.8 414.7 L1002.0 418.0 L1000.1 421.1 L1000.5 424.8 L999.0 428.0 L997.3 431.1 L997.6 434.5 L996.5 437.7 L995.9 441.0 L996.3 444.5 L995.0 447.6 L995.0 450.7 L994.6 453.8 L993.2 456.7 L992.7 459.7 L993.5 463.0 L991.3 465.7 L991.9 468.9 L991.9 472.0 L990.8 475.0 L991.0 478.1 L989.6 481.2 L990.7 484.3 L990.5 487.4 L989.8 490.6 L989.7 493.7 L990.2 496.8 L991.0 499.9 L990.8 503.0 L990.7 506.1 L990.1 509.2 L990.5 512.2 L991.1 515.2 L991.8 518.3 L991.9 521.3 L991.2 524.4 L991.7 527.5 L992.0 530.5 L993.8 533.3 L992.8 536.7 L993.0 539.9 L993.8 542.9 L994.2 546.0 L994.8 549.0 L996.4 551.9 L996.4 555.1 L997.7 558.0 L999.0 561.1 L1000.6 564.0 L1001.0 567.3 L1002.1 570.4 L1001.6 574.0 L1003.2 577.0 L1004.6 580.0 L1004.2 583.0 L1003.8 586.0 L1004.7 589.1 L1003.5 592.0 L1002.8 595.0 L1003.3 598.0 L1003.4 601.1 L1002.8 604.0 L1002.7 607.0 L1001.6 610.0 L1001.8 613.0 L1003.2 616.0 L1004.0 619.1 L1004.0 622.3 L1003.7 625.7 L1004.2 628.8 L1005.0 631.9 L1006.0 635.0 L1005.9 638.6 L1008.1 641.6 L1009.8 644.7 L1009.7 648.3 L1010.7 651.6 L1011.5 655.0 L1012.4 658.0 L1011.4 661.0 L1012.4 664.0 L1012.8 667.0 L1012.7 670.0 L1011.4 673.1 L1013.8 675.9 L1013.2 679.0 L1013.0 682.0 L1014.6 684.9 L1015.8 688.0 L1016.4 691.3 L1017.9 694.2 L1017.4 697.9 L1019.4 700.7 L1020.0 703.9 L1022.3 706.6 L1022.6 710.0 L1023.1 713.1 L1023.3 716.2 L1023.2 719.4 L1025.0 722.2 L1025.0 725.4 L1024.5 728.6 L1025.0 731.7 L1026.9 734.5 L1026.7 737.7 L1027.4 740.8 L1027.8 743.9 L1029.4 746.7 L1029.6 749.9 L1030.5 753.0 L1030.6 756.2 L1032.4 758.9 L1032.9 762.1 L1034.5 764.9 L1035.0 768.0 L1035.9 771.0 L1038.1 773.3 L1039.1 776.2 L1040.5 779.0 L1039.4 781.9 L1038.2 784.8 L1037.2 787.7 L1035.6 790.4 L1033.5 792.9 L1032.8 796.0 L1030.9 798.5 L1034.5 799.6 L1036.5 803.2 L1040.3 804.2 L1043.0 806.7 L1042.0 809.8 L1042.8 812.9 L1043.0 816.0 L1043.5 819.0 L1042.6 822.1 L1042.8 825.1 L1044.4 828.0 L1045.1 830.9 L1044.1 834.0 L1044.7 837.0 L1044.0 840.3 L1044.6 843.5 L1044.2 846.8 L1045.0 850.0 L1193.0 858.0 L1193.0 -3.0 Z"/></clipPath>
<g clip-path="url(#l2)"><g filter="url(#b1)"><rect x="788" y="17" width="385" height="821" fill="rgb(14,104,46)"/><rect x="783" y="12" width="395" height="831" filter="url(#mt3)"/><rect x="783" y="12" width="395" height="831" filter="url(#mt4)"/><path d="M1070.0 5.0 L1066.7 17.7 L1049.0 25.8 L1042.5 42.0 L1041.0 63.5 L1045.0 85.0 L1050.6 98.6 L1048.0 112.0 L1052.0 123.0 L1057.0 129.0 L1065.4 136.3 L1076.0 141.7 L1084.0 150.0 L1087.0 166.0 L1092.0 177.0 L1092.0 193.0 L1088.0 204.0 L1091.0 222.6 L1097.8 228.0 L1092.0 239.0 L1087.0 263.0 L1089.7 279.0 L1100.0 284.6 L1103.0 300.8 L1100.0 309.0 L1090.0 316.0 L1079.0 319.7 L1068.0 325.0 L1070.8 333.0 L1076.0 346.6 L1073.5 354.7 L1070.8 365.5 L1057.3 370.9 L1049.0 379.0 L1047.0 390.0 L1043.8 397.8 L1022.0 400.6 L1016.9 395.0 L1012.8 387.0 L1008.8 389.8 L1006.0 397.8 L1004.7 411.0 L1002.0 418.0 L999.0 428.0 L995.0 447.6 L990.8 475.0 L990.8 503.0 L992.0 530.5 L997.7 558.0 L1004.6 580.0 L1001.8 613.0 L1006.0 635.0 L1011.5 655.0 L1013.0 682.0 L1022.6 710.0 L1026.7 737.7 L1035.0 768.0 L1040.5 779.0 L1030.9 798.5 L1043.0 806.7 L1043.0 816.0 L1044.7 837.0 L1045.0 850.0 L1061.0 850.0 L1060.7 837.0 L1059.0 816.0 L1059.0 806.7 L1046.9 798.5 L1056.5 779.0 L1051.0 768.0 L1042.7 737.7 L1038.6 710.0 L1029.0 682.0 L1027.5 655.0 L1022.0 635.0 L1017.8 613.0 L1020.6 580.0 L1013.7 558.0 L1008.0 530.5 L1006.8 503.0 L1006.8 475.0 L1011.0 447.6 L1015.0 428.0 L1018.0 418.0 L1020.7 411.0 L1022.0 397.8 L1024.8 389.8 L1028.8 387.0 L1032.9 395.0 L1038.0 400.6 L1059.8 397.8 L1063.0 390.0 L1065.0 379.0 L1073.3 370.9 L1086.8 365.5 L1089.5 354.7 L1092.0 346.6 L1086.8 333.0 L1084.0 325.0 L1095.0 319.7 L1106.0 316.0 L1116.0 309.0 L1119.0 300.8 L1116.0 284.6 L1105.7 279.0 L1103.0 263.0 L1108.0 239.0 L1113.8 228.0 L1107.0 222.6 L1104.0 204.0 L1108.0 193.0 L1108.0 177.0 L1103.0 166.0 L1100.0 150.0 L1092.0 141.7 L1081.4 136.3 L1073.0 129.0 L1068.0 123.0 L1064.0 112.0 L1066.6 98.6 L1061.0 85.0 L1057.0 63.5 L1058.5 42.0 L1065.0 25.8 L1082.7 17.7 L1086.0 5.0 Z" fill="rgb(12,100,44)" opacity="0.75"/></g></g>
<path d="M1070.0 5.0 L1069.2 8.2 L1068.0 11.3 L1067.1 14.4 L1066.7 17.7 L1064.1 19.8 L1061.3 21.5 L1058.0 22.0 L1055.1 23.6 L1051.6 23.8 L1049.0 25.8 L1047.3 28.9 L1046.2 32.2 L1045.0 35.5 L1043.4 38.6 L1042.5 42.0 L1043.1 45.1 L1042.2 48.2 L1042.7 51.3 L1040.7 54.2 L1042.5 57.4 L1040.5 60.4 L1041.0 63.5 L1042.6 66.4 L1041.7 69.7 L1043.1 72.6 L1043.5 75.7 L1043.0 79.0 L1045.6 81.7 L1045.0 85.0 L1047.4 88.0 L1046.9 92.2 L1049.2 95.2 L1050.6 98.6 L1050.9 102.1 L1048.2 105.1 L1047.6 108.4 L1048.0 112.0 L1050.2 115.3 L1050.8 119.3 L1052.0 123.0 L1055.2 125.4 L1057.0 129.0 L1060.1 131.1 L1062.4 134.1 L1065.4 136.3 L1069.3 137.4 L1072.3 140.3 L1076.0 141.7 L1079.4 143.7 L1081.9 146.7 L1084.0 150.0 L1083.9 153.3 L1085.4 156.4 L1086.0 159.6 L1086.2 162.8 L1087.0 166.0 L1088.3 168.7 L1089.8 171.4 L1091.8 173.8 L1092.0 177.0 L1091.5 180.2 L1090.9 183.4 L1090.9 186.6 L1091.6 189.8 L1092.0 193.0 L1091.0 196.8 L1089.6 200.4 L1088.0 204.0 L1088.0 207.2 L1088.6 210.3 L1090.4 213.2 L1090.6 216.3 L1090.8 219.4 L1091.0 222.6 L1094.4 225.3 L1097.8 228.0 L1095.7 230.4 L1094.9 233.5 L1094.5 236.8 L1092.0 239.0 L1090.6 241.8 L1090.9 245.0 L1090.1 248.0 L1090.2 251.1 L1089.0 254.0 L1088.5 257.1 L1087.0 259.9 L1087.0 263.0 L1088.5 266.0 L1088.0 269.4 L1089.4 272.5 L1088.7 275.9 L1089.7 279.0 L1093.7 279.9 L1096.8 282.3 L1100.0 284.6 L1101.0 287.8 L1100.9 291.1 L1102.9 294.1 L1102.5 297.5 L1103.0 300.8 L1102.2 305.1 L1100.0 309.0 L1097.8 311.2 L1095.0 312.5 L1091.9 313.3 L1090.0 316.0 L1086.3 317.3 L1082.3 317.4 L1079.0 319.7 L1076.6 321.7 L1073.1 321.4 L1070.9 324.0 L1068.0 325.0 L1070.1 328.8 L1070.8 333.0 L1071.5 336.6 L1072.5 340.2 L1075.8 342.8 L1076.0 346.6 L1075.3 350.8 L1073.5 354.7 L1072.0 358.1 L1072.1 362.0 L1070.8 365.5 L1067.7 367.4 L1064.5 369.3 L1061.1 370.6 L1057.3 370.9 L1054.3 373.4 L1051.0 375.5 L1049.0 379.0 L1047.2 382.5 L1047.7 386.3 L1047.0 390.0 L1046.5 394.3 L1043.8 397.8 L1040.7 398.6 L1037.5 397.9 L1034.4 398.2 L1031.3 399.1 L1028.3 400.4 L1025.1 400.1 L1022.0 400.6 L1019.4 397.8 L1016.9 395.0 L1015.1 390.9 L1012.8 387.0 L1008.8 389.8 L1007.9 394.0 L1006.0 397.8 L1004.6 401.0 L1004.4 404.3 L1005.8 407.8 L1004.7 411.0 L1003.8 414.7 L1002.0 418.0 L1000.1 421.1 L1000.5 424.8 L999.0 428.0 L997.3 431.1 L997.6 434.5 L996.5 437.7 L995.9 441.0 L996.3 444.5 L995.0 447.6 L995.0 450.7 L994.6 453.8 L993.2 456.7 L992.7 459.7 L993.5 463.0 L991.3 465.7 L991.9 468.9 L991.9 472.0 L990.8 475.0 L991.0 478.1 L989.6 481.2 L990.7 484.3 L990.5 487.4 L989.8 490.6 L989.7 493.7 L990.2 496.8 L991.0 499.9 L990.8 503.0 L990.7 506.1 L990.1 509.2 L990.5 512.2 L991.1 515.2 L991.8 518.3 L991.9 521.3 L991.2 524.4 L991.7 527.5 L992.0 530.5 L993.8 533.3 L992.8 536.7 L993.0 539.9 L993.8 542.9 L994.2 546.0 L994.8 549.0 L996.4 551.9 L996.4 555.1 L997.7 558.0 L999.0 561.1 L1000.6 564.0 L1001.0 567.3 L1002.1 570.4 L1001.6 574.0 L1003.2 577.0 L1004.6 580.0 L1004.2 583.0 L1003.8 586.0 L1004.7 589.1 L1003.5 592.0 L1002.8 595.0 L1003.3 598.0 L1003.4 601.1 L1002.8 604.0 L1002.7 607.0 L1001.6 610.0 L1001.8 613.0 L1003.2 616.0 L1004.0 619.1 L1004.0 622.3 L1003.7 625.7 L1004.2 628.8 L1005.0 631.9 L1006.0 635.0 L1005.9 638.6 L1008.1 641.6 L1009.8 644.7 L1009.7 648.3 L1010.7 651.6 L1011.5 655.0 L1012.4 658.0 L1011.4 661.0 L1012.4 664.0 L1012.8 667.0 L1012.7 670.0 L1011.4 673.1 L1013.8 675.9 L1013.2 679.0 L1013.0 682.0 L1014.6 684.9 L1015.8 688.0 L1016.4 691.3 L1017.9 694.2 L1017.4 697.9 L1019.4 700.7 L1020.0 703.9 L1022.3 706.6 L1022.6 710.0 L1023.1 713.1 L1023.3 716.2 L1023.2 719.4 L1025.0 722.2 L1025.0 725.4 L1024.5 728.6 L1025.0 731.7 L1026.9 734.5 L1026.7 737.7 L1027.4 740.8 L1027.8 743.9 L1029.4 746.7 L1029.6 749.9 L1030.5 753.0 L1030.6 756.2 L1032.4 758.9 L1032.9 762.1 L1034.5 764.9 L1035.0 768.0 L1035.9 771.0 L1038.1 773.3 L1039.1 776.2 L1040.5 779.0 L1039.4 781.9 L1038.2 784.8 L1037.2 787.7 L1035.6 790.4 L1033.5 792.9 L1032.8 796.0 L1030.9 798.5 L1034.5 799.6 L1036.5 803.2 L1040.3 804.2 L1043.0 806.7 L1042.0 809.8 L1042.8 812.9 L1043.0 816.0 L1043.5 819.0 L1042.6 822.1 L1042.8 825.1 L1044.4 828.0 L1045.1 830.9 L1044.1 834.0 L1044.7 837.0 L1044.0 840.3 L1044.6 843.5 L1044.2 846.8 L1045.0 850.0" fill="none" stroke="#000" stroke-width="1.4"/>
<ellipse cx="1025" cy="76.5" rx="3" ry="2.5" fill="rgb(20,105,48)" stroke="#000" stroke-width="1.3"/>
<circle cx="1034" cy="136" r="1.2" fill="#000"/>
<circle cx="1040.6" cy="160.6" r="1.2" fill="#000"/>
<circle cx="1031.7" cy="209" r="1.2" fill="#000"/>
<circle cx="1034" cy="220" r="1.2" fill="#000"/>
</g>
<g clip-path="url(#c3)">
<g filter="url(#b6)"><rect x="1457" y="-13" width="417" height="881" fill="rgb(0,0,55)"/><path d="M1493.0 -13.0 L1493.0 17.0 L1493.0 60.0 L1493.0 120.0 L1493.0 160.0 L1493.0 210.0 L1493.0 260.0 L1493.0 300.0 L1493.0 337.0 L1493.0 390.0 L1493.0 444.0 L1493.0 497.0 L1493.0 550.0 L1493.0 604.0 L1493.0 657.0 L1493.0 711.0 L1493.0 764.0 L1493.0 817.0 L1493.0 838.0 L1493.0 868.0 L1874.0 868.0 L1874.0 -13.0 Z" fill="rgb(0,0,130)"/><path d="M1506.0 -13.0 L1506.0 17.0 L1506.0 60.0 L1506.0 120.0 L1506.0 160.0 L1506.0 210.0 L1506.0 260.0 L1506.0 300.0 L1506.0 337.0 L1506.0 390.0 L1506.0 444.0 L1506.0 497.0 L1506.0 550.0 L1506.0 604.0 L1506.0 657.0 L1506.0 711.0 L1503.0 764.0 L1500.0 817.0 L1498.0 838.0 L1498.0 868.0 L1874.0 868.0 L1874.0 -13.0 Z" fill="rgb(0,0,195)"/><path d="M1525.0 -13.0 L1525.0 17.0 L1525.0 60.0 L1525.0 120.0 L1525.0 160.0 L1530.0 210.0 L1535.0 260.0 L1545.0 300.0 L1555.0 337.0 L1565.0 390.0 L1570.0 444.0 L1565.0 497.0 L1555.0 550.0 L1548.0 604.0 L1538.0 657.0 L1525.0 711.0 L1515.0 764.0 L1505.0 817.0 L1502.0 838.0 L1502.0 868.0 L1874.0 868.0 L1874.0 -13.0 Z" fill="rgb(0,0,240)"/><path d="M1540.0 -13.0 L1540.0 17.0 L1542.0 60.0 L1538.0 120.0 L1540.0 160.0 L1548.0 210.0 L1552.0 260.0 L1565.0 300.0 L1580.0 337.0 L1600.0 390.0 L1625.0 444.0 L1610.0 497.0 L1590.0 550.0 L1580.0 604.0 L1565.0 657.0 L1550.0 711.0 L1530.0 764.0 L1515.0 817.0 L1510.0 838.0 L1510.0 868.0 L1874.0 868.0 L1874.0 -13.0 Z" fill="rgb(0,40,255)"/><path d="M1558.0 -13.0 L1558.0 17.0 L1565.0 60.0 L1550.0 120.0 L1553.0 160.0 L1565.0 210.0 L1570.0 260.0 L1580.0 300.0 L1600.0 337.0 L1630.0 390.0 L1680.0 444.0 L1660.0 497.0 L1630.0 550.0 L1620.0 604.0 L1600.0 657.0 L1580.0 711.0 L1552.0 764.0 L1528.0 817.0 L1520.0 838.0 L1520.0 868.0 L1874.0 868.0 L1874.0 -13.0 Z" fill="rgb(0,100,255)"/><path d="M1575.0 -13.0 L1575.0 17.0 L1580.0 60.0 L1560.0 120.0 L1562.0 160.0 L1575.0 210.0 L1585.0 260.0 L1595.0 300.0 L1620.0 337.0 L1650.0 390.0 L1700.0 444.0 L1690.0 497.0 L1665.0 550.0 L1660.0 604.0 L1640.0 657.0 L1610.0 711.0 L1575.0 764.0 L1542.0 817.0 L1532.0 838.0 L1532.0 868.0 L1874.0 868.0 L1874.0 -13.0 Z" fill="rgb(0,150,255)"/><path d="M1590.0 -13.0 L1590.0 17.0 L1592.0 60.0 L1570.0 120.0 L1572.0 160.0 L1640.0 210.0 L1605.0 260.0 L1605.0 300.0 L1640.0 337.0 L1670.0 390.0 L1712.0 444.0 L1705.0 497.0 L1690.0 550.0 L1695.0 604.0 L1670.0 657.0 L1640.0 711.0 L1595.0 764.0 L1555.0 817.0 L1545.0 838.0 L1545.0 868.0 L1874.0 868.0 L1874.0 -13.0 Z" fill="rgb(0,200,255)"/><path d="M1605.0 -13.0 L1605.0 17.0 L1605.0 60.0 L1582.0 120.0 L1580.0 160.0 L1660.0 210.0 L1620.0 260.0 L1615.0 300.0 L1665.0 337.0 L1690.0 390.0 L1725.0 444.0 L1728.0 497.0 L1712.0 550.0 L1722.0 604.0 L1700.0 657.0 L1660.0 711.0 L1615.0 764.0 L1572.0 817.0 L1562.0 838.0 L1562.0 868.0 L1874.0 868.0 L1874.0 -13.0 Z" fill="rgb(0,240,255)"/><path d="M1545 470 L1600 468 L1650 476 L1700 488" stroke="rgb(0,25,225)" stroke-width="12" fill="none"/><path d="M1580 500 L1640 505 L1690 515" stroke="rgb(0,40,235)" stroke-width="7" fill="none"/><ellipse cx="1595" cy="160" rx="16" ry="14" fill="rgb(0,250,255)"/><ellipse cx="1630" cy="278" rx="20" ry="22" fill="rgb(0,235,255)"/><ellipse cx="1627" cy="204" rx="8" ry="7" fill="rgb(0,120,255)"/><ellipse cx="1600" cy="600" rx="30" ry="50" fill="rgb(0,110,255)"/></g>
<clipPath id="l3"><path d="M1668.0 5.0 L1669.2 7.9 L1669.1 11.1 L1669.9 14.1 L1671.0 17.0 L1673.7 18.2 L1675.5 21.0 L1678.8 22.4 L1681.1 24.8 L1683.5 27.1 L1685.7 29.5 L1687.3 32.6 L1690.0 34.6 L1691.0 37.5 L1690.5 40.6 L1691.5 43.5 L1691.6 46.6 L1691.5 49.6 L1695.8 50.7 L1700.0 52.0 L1703.0 54.1 L1706.5 55.0 L1709.8 55.9 L1713.4 55.4 L1716.7 56.6 L1720.0 57.7 L1723.0 59.1 L1724.6 62.3 L1727.2 64.2 L1729.7 66.2 L1732.2 68.2 L1734.8 70.1 L1737.1 72.4 L1739.8 74.2 L1743.0 75.3 L1744.8 78.2 L1747.8 79.7 L1750.0 82.1 L1752.8 83.7 L1754.8 86.0 L1757.0 88.0 L1759.1 90.1 L1761.1 92.4 L1763.3 94.5 L1765.7 96.4 L1766.7 99.6 L1768.8 101.8 L1770.5 104.2 L1773.0 106.0 L1775.3 108.0 L1777.0 110.5 L1780.0 111.9 L1781.2 114.8 L1783.6 116.7 L1785.6 119.0 L1787.5 121.5 L1788.3 124.6 L1786.1 127.7 L1783.0 130.0 L1783.0 133.1 L1783.5 136.3 L1783.1 139.4 L1782.8 142.6 L1783.2 145.7 L1783.7 148.9 L1783.0 152.0 L1781.5 156.0 L1780.0 160.0 L1783.1 162.3 L1785.9 165.0 L1788.3 168.0 L1791.4 169.4 L1793.9 171.6 L1796.5 173.7 L1798.7 176.7 L1799.0 180.5 L1799.8 184.0 L1802.0 187.0 L1801.3 190.3 L1799.7 193.4 L1798.4 196.5 L1799.2 200.2 L1798.1 203.4 L1796.5 206.5 L1796.7 210.1 L1797.5 213.7 L1799.0 217.0 L1795.7 217.9 L1792.8 220.0 L1789.5 220.8 L1785.9 221.1 L1783.0 223.0 L1781.5 228.0 L1781.8 231.7 L1783.0 235.2 L1785.1 238.3 L1785.6 242.0 L1784.9 245.2 L1785.9 248.3 L1785.2 251.5 L1786.3 254.6 L1784.7 257.8 L1785.4 260.9 L1785.2 264.1 L1786.2 267.2 L1785.4 270.4 L1785.4 273.5 L1785.4 276.7 L1785.9 279.8 L1785.6 283.0 L1787.3 286.0 L1790.0 288.3 L1792.1 291.0 L1793.8 294.0 L1796.9 295.0 L1799.1 297.5 L1802.4 298.1 L1805.0 299.9 L1807.4 302.0 L1810.7 304.0 L1812.7 307.5 L1815.6 310.0 L1814.1 314.0 L1812.9 318.0 L1810.5 320.3 L1808.9 323.4 L1806.0 325.2 L1803.8 327.8 L1801.8 330.5 L1799.6 333.0 L1796.5 334.7 L1794.5 337.6 L1795.0 341.5 L1793.6 344.6 L1792.5 347.9 L1791.0 351.0 L1790.5 354.0 L1791.2 357.1 L1790.2 360.0 L1790.1 363.0 L1788.8 365.9 L1790.2 369.1 L1789.2 372.0 L1788.6 375.0 L1788.3 378.0 L1786.4 380.8 L1786.2 384.2 L1785.2 387.4 L1783.8 390.4 L1783.5 393.8 L1783.0 397.0 L1781.0 399.9 L1780.0 403.0 L1777.9 406.4 L1776.9 410.2 L1776.0 414.0 L1778.2 416.8 L1779.6 420.0 L1781.0 425.5 L1782.8 428.5 L1784.6 431.5 L1787.6 433.5 L1789.3 436.6 L1790.8 439.4 L1792.8 442.0 L1794.7 444.6 L1796.2 447.4 L1797.5 450.4 L1800.1 452.2 L1802.2 454.6 L1804.8 456.3 L1806.5 459.1 L1808.6 461.4 L1812.6 462.0 L1815.7 464.7 L1819.6 465.6 L1820.1 468.6 L1822.0 471.3 L1821.2 474.7 L1823.0 477.4 L1823.1 480.5 L1823.8 483.5 L1823.8 486.6 L1824.4 489.6 L1824.6 492.6 L1824.5 495.7 L1825.2 498.7 L1823.9 501.9 L1825.5 504.9 L1824.2 508.0 L1825.0 511.0 L1825.4 514.3 L1825.0 517.5 L1824.6 520.8 L1825.1 524.1 L1824.7 527.3 L1823.8 530.5 L1822.7 533.9 L1821.1 537.1 L1819.0 540.1 L1817.4 543.3 L1816.9 547.0 L1814.7 549.8 L1811.3 551.1 L1809.0 553.8 L1805.8 555.3 L1802.0 555.6 L1798.6 557.4 L1794.8 558.0 L1791.2 558.2 L1788.0 560.0 L1786.2 557.4 L1783.7 555.4 L1782.4 552.5 L1781.4 548.8 L1781.9 545.2 L1782.4 541.5 L1778.9 540.8 L1775.4 541.5 L1774.2 544.6 L1771.8 547.1 L1770.0 549.8 L1767.4 552.7 L1764.4 555.3 L1766.1 559.4 L1767.2 563.6 L1763.3 563.9 L1759.9 566.0 L1756.0 566.3 L1754.3 570.3 L1753.4 574.6 L1749.1 575.7 L1745.0 577.4 L1741.6 580.3 L1739.6 584.3 L1736.1 585.3 L1732.4 585.5 L1729.2 587.5 L1725.7 588.4 L1725.7 594.0 L1729.8 595.5 L1734.0 596.7 L1737.1 598.7 L1740.1 601.0 L1743.7 602.2 L1743.3 606.0 L1745.3 609.5 L1745.0 613.3 L1746.3 616.5 L1746.1 620.0 L1746.1 623.4 L1747.2 626.6 L1747.8 629.9 L1749.6 632.5 L1749.8 635.9 L1752.4 638.0 L1753.4 641.0 L1752.7 644.1 L1751.4 646.9 L1749.2 649.2 L1749.4 653.5 L1747.8 657.5 L1750.3 660.6 L1753.4 663.0 L1754.4 666.3 L1753.5 669.7 L1753.4 673.0 L1753.4 676.4 L1754.7 679.6 L1753.8 682.8 L1754.3 686.2 L1753.7 689.4 L1753.0 692.7 L1753.4 696.0 L1751.9 698.6 L1751.5 701.8 L1749.6 704.2 L1749.6 707.5 L1747.8 710.0 L1746.0 712.6 L1742.9 714.2 L1741.7 717.2 L1739.6 719.6 L1737.0 721.4 L1733.8 721.8 L1731.3 723.7 L1728.5 725.0 L1724.8 726.0 L1721.2 725.9 L1717.5 725.0 L1714.4 723.0 L1711.7 720.6 L1709.2 718.0 L1708.2 714.8 L1705.3 712.8 L1704.6 709.4 L1702.3 707.0 L1699.5 710.1 L1698.0 714.0 L1695.4 716.1 L1692.6 718.0 L1689.1 720.1 L1686.7 723.3 L1684.3 726.5 L1683.0 730.2 L1682.0 734.0 L1680.2 737.5 L1680.0 740.8 L1678.8 744.0 L1679.3 747.4 L1679.7 750.8 L1678.8 754.0 L1679.0 758.2 L1678.8 762.4 L1676.1 765.9 L1673.3 769.3 L1669.5 769.5 L1665.9 768.3 L1662.2 768.0 L1659.5 772.0 L1662.1 774.8 L1662.6 778.8 L1665.0 781.7 L1662.6 783.9 L1659.9 785.7 L1656.6 786.5 L1654.2 788.7 L1651.2 790.0 L1647.8 790.5 L1644.9 792.4 L1641.7 793.5 L1638.3 794.1 L1635.6 796.5 L1632.1 796.7 L1629.1 798.3 L1626.0 798.5 L1623.0 799.4 L1619.8 798.8 L1617.0 801.1 L1613.7 799.9 L1610.8 801.7 L1607.5 800.8 L1604.7 802.6 L1601.5 802.4 L1597.7 802.8 L1594.1 801.5 L1590.4 801.0 L1589.8 797.9 L1587.2 795.8 L1586.3 792.8 L1585.6 789.4 L1585.1 785.9 L1583.7 782.6 L1583.5 779.0 L1582.7 775.7 L1580.9 772.6 L1580.9 769.1 L1580.7 765.6 L1579.4 762.4 L1576.4 759.9 L1573.9 756.9 L1571.5 760.0 L1568.4 762.4 L1567.8 765.6 L1565.2 767.7 L1564.3 770.7 L1562.8 773.4 L1559.5 775.6 L1557.0 778.6 L1554.6 781.7 L1555.0 784.9 L1553.1 787.8 L1552.7 790.9 L1552.6 794.1 L1552.2 797.2 L1552.1 800.3 L1551.7 803.4 L1551.8 806.6 L1550.1 809.2 L1548.9 812.0 L1548.1 815.1 L1546.3 817.6 L1546.5 821.0 L1544.7 824.2 L1544.4 827.5 L1544.9 831.0 L1543.5 834.2 L1540.7 837.0 L1539.7 840.2 L1539.1 843.5 L1538.7 846.7 L1538.0 850.0 L1864.0 858.0 L1864.0 -3.0 Z"/></clipPath>
<g clip-path="url(#l3)"><g filter="url(#b4)"><rect x="1487" y="17" width="357" height="821" fill="rgb(12,98,44)"/><path d="M1694.0 5.0 L1697.0 17.0 L1699.7 18.2 L1716.0 34.6 L1717.5 49.6 L1726.0 52.0 L1732.5 55.0 L1746.0 57.7 L1778.8 83.7 L1811.6 119.0 L1814.3 124.6 L1809.0 130.0 L1809.0 152.0 L1806.0 160.0 L1814.3 168.0 L1822.5 173.7 L1828.0 187.0 L1822.5 206.5 L1825.0 217.0 L1809.0 223.0 L1807.5 228.0 L1811.6 242.0 L1811.6 283.0 L1819.8 294.0 L1833.4 302.0 L1841.6 310.0 L1838.9 318.0 L1822.5 334.7 L1817.0 351.0 L1814.3 378.0 L1806.0 403.0 L1802.0 414.0 L1805.6 420.0 L1807.0 425.5 L1815.3 436.6 L1823.5 450.4 L1834.6 461.4 L1845.6 465.6 L1849.8 483.5 L1851.0 511.0 L1849.8 530.5 L1842.9 547.0 L1831.8 555.3 L1820.8 558.0 L1814.0 560.0 L1808.4 552.5 L1808.4 541.5 L1801.4 541.5 L1796.0 549.8 L1790.4 555.3 L1793.2 563.6 L1782.0 566.3 L1779.4 574.6 L1771.0 577.4 L1765.6 584.3 L1751.7 588.4 L1751.7 594.0 L1760.0 596.7 L1769.7 602.2 L1771.0 613.3 L1773.8 629.9 L1779.4 641.0 L1775.2 649.2 L1773.8 657.5 L1779.4 663.0 L1780.7 679.6 L1779.4 696.0 L1773.8 710.0 L1765.6 719.6 L1754.5 725.0 L1743.5 725.0 L1735.2 718.0 L1728.3 707.0 L1724.0 714.0 L1718.6 718.0 L1710.3 726.5 L1706.2 737.5 L1704.8 754.0 L1704.8 762.4 L1699.3 769.3 L1688.2 768.0 L1685.5 772.0 L1691.0 781.7 L1677.2 790.0 L1655.1 798.3 L1627.5 802.4 L1616.4 801.0 L1612.3 792.8 L1609.5 779.0 L1605.4 762.4 L1599.9 756.9 L1594.4 762.4 L1588.8 773.4 L1580.6 781.7 L1577.8 806.6 L1572.3 817.6 L1569.5 834.2 L1566.7 837.0 L1564.0 850.0 L1874.0 868.0 L1874.0 -13.0 Z" fill="rgb(34,124,52)"/><path d="M1700.0 0.0 L1860.0 0.0 L1860.0 120.0 L1800.0 110.0 L1760.0 80.0 L1720.0 60.0 Z" fill="rgb(12,98,44)"/><rect x="1482" y="12" width="367" height="831" filter="url(#mt5)"/><ellipse cx="1830" cy="158" rx="20" ry="30" fill="rgb(100,176,90)"/><ellipse cx="1828" cy="240" rx="20" ry="50" fill="rgb(100,176,90)"/><ellipse cx="1826" cy="350" rx="22" ry="36" fill="rgb(100,176,90)"/><ellipse cx="1775" cy="625" rx="32" ry="32" fill="rgb(100,176,90)"/><ellipse cx="1790" cy="710" rx="30" ry="26" fill="rgb(100,176,90)"/><ellipse cx="1805" cy="815" rx="40" ry="28" fill="rgb(100,176,90)"/><ellipse cx="1810" cy="480" rx="10" ry="25" fill="rgb(100,176,90)"/><ellipse cx="1830" cy="160" rx="11" ry="19" fill="rgb(226,243,196)"/><ellipse cx="1830" cy="218" rx="10" ry="13" fill="rgb(226,243,196)"/><ellipse cx="1830" cy="262" rx="10" ry="18" fill="rgb(226,243,196)"/><ellipse cx="1828" cy="350" rx="12" ry="24" fill="rgb(226,243,196)"/><ellipse cx="1775" cy="622" rx="16" ry="16" fill="rgb(150,208,128)"/><ellipse cx="1790" cy="710" rx="14" ry="12" fill="rgb(150,208,128)"/><ellipse cx="1808" cy="822" rx="26" ry="18" fill="rgb(222,236,192)"/><ellipse cx="1808" cy="828" rx="15" ry="10" fill="rgb(190,170,110)"/></g></g>
<path d="M1668.0 5.0 L1669.2 7.9 L1669.1 11.1 L1669.9 14.1 L1671.0 17.0 L1673.7 18.2 L1675.5 21.0 L1678.8 22.4 L1681.1 24.8 L1683.5 27.1 L1685.7 29.5 L1687.3 32.6 L1690.0 34.6 L1691.0 37.5 L1690.5 40.6 L1691.5 43.5 L1691.6 46.6 L1691.5 49.6 L1695.8 50.7 L1700.0 52.0 L1703.0 54.1 L1706.5 55.0 L1709.8 55.9 L1713.4 55.4 L1716.7 56.6 L1720.0 57.7 L1723.0 59.1 L1724.6 62.3 L1727.2 64.2 L1729.7 66.2 L1732.2 68.2 L1734.8 70.1 L1737.1 72.4 L1739.8 74.2 L1743.0 75.3 L1744.8 78.2 L1747.8 79.7 L1750.0 82.1 L1752.8 83.7 L1754.8 86.0 L1757.0 88.0 L1759.1 90.1 L1761.1 92.4 L1763.3 94.5 L1765.7 96.4 L1766.7 99.6 L1768.8 101.8 L1770.5 104.2 L1773.0 106.0 L1775.3 108.0 L1777.0 110.5 L1780.0 111.9 L1781.2 114.8 L1783.6 116.7 L1785.6 119.0 L1787.5 121.5 L1788.3 124.6 L1786.1 127.7 L1783.0 130.0 L1783.0 133.1 L1783.5 136.3 L1783.1 139.4 L1782.8 142.6 L1783.2 145.7 L1783.7 148.9 L1783.0 152.0 L1781.5 156.0 L1780.0 160.0 L1783.1 162.3 L1785.9 165.0 L1788.3 168.0 L1791.4 169.4 L1793.9 171.6 L1796.5 173.7 L1798.7 176.7 L1799.0 180.5 L1799.8 184.0 L1802.0 187.0 L1801.3 190.3 L1799.7 193.4 L1798.4 196.5 L1799.2 200.2 L1798.1 203.4 L1796.5 206.5 L1796.7 210.1 L1797.5 213.7 L1799.0 217.0 L1795.7 217.9 L1792.8 220.0 L1789.5 220.8 L1785.9 221.1 L1783.0 223.0 L1781.5 228.0 L1781.8 231.7 L1783.0 235.2 L1785.1 238.3 L1785.6 242.0 L1784.9 245.2 L1785.9 248.3 L1785.2 251.5 L1786.3 254.6 L1784.7 257.8 L1785.4 260.9 L1785.2 264.1 L1786.2 267.2 L1785.4 270.4 L1785.4 273.5 L1785.4 276.7 L1785.9 279.8 L1785.6 283.0 L1787.3 286.0 L1790.0 288.3 L1792.1 291.0 L1793.8 294.0 L1796.9 295.0 L1799.1 297.5 L1802.4 298.1 L1805.0 299.9 L1807.4 302.0 L1810.7 304.0 L1812.7 307.5 L1815.6 310.0 L1814.1 314.0 L1812.9 318.0 L1810.5 320.3 L1808.9 323.4 L1806.0 325.2 L1803.8 327.8 L1801.8 330.5 L1799.6 333.0 L1796.5 334.7 L1794.5 337.6 L1795.0 341.5 L1793.6 344.6 L1792.5 347.9 L1791.0 351.0 L1790.5 354.0 L1791.2 357.1 L1790.2 360.0 L1790.1 363.0 L1788.8 365.9 L1790.2 369.1 L1789.2 372.0 L1788.6 375.0 L1788.3 378.0 L1786.4 380.8 L1786.2 384.2 L1785.2 387.4 L1783.8 390.4 L1783.5 393.8 L1783.0 397.0 L1781.0 399.9 L1780.0 403.0 L1777.9 406.4 L1776.9 410.2 L1776.0 414.0 L1778.2 416.8 L1779.6 420.0 L1781.0 425.5 L1782.8 428.5 L1784.6 431.5 L1787.6 433.5 L1789.3 436.6 L1790.8 439.4 L1792.8 442.0 L1794.7 444.6 L1796.2 447.4 L1797.5 450.4 L1800.1 452.2 L1802.2 454.6 L1804.8 456.3 L1806.5 459.1 L1808.6 461.4 L1812.6 462.0 L1815.7 464.7 L1819.6 465.6 L1820.1 468.6 L1822.0 471.3 L1821.2 474.7 L1823.0 477.4 L1823.1 480.5 L1823.8 483.5 L1823.8 486.6 L1824.4 489.6 L1824.6 492.6 L1824.5 495.7 L1825.2 498.7 L1823.9 501.9 L1825.5 504.9 L1824.2 508.0 L1825.0 511.0 L1825.4 514.3 L1825.0 517.5 L1824.6 520.8 L1825.1 524.1 L1824.7 527.3 L1823.8 530.5 L1822.7 533.9 L1821.1 537.1 L1819.0 540.1 L1817.4 543.3 L1816.9 547.0 L1814.7 549.8 L1811.3 551.1 L1809.0 553.8 L1805.8 555.3 L1802.0 555.6 L1798.6 557.4 L1794.8 558.0 L1791.2 558.2 L1788.0 560.0 L1786.2 557.4 L1783.7 555.4 L1782.4 552.5 L1781.4 548.8 L1781.9 545.2 L1782.4 541.5 L1778.9 540.8 L1775.4 541.5 L1774.2 544.6 L1771.8 547.1 L1770.0 549.8 L1767.4 552.7 L1764.4 555.3 L1766.1 559.4 L1767.2 563.6 L1763.3 563.9 L1759.9 566.0 L1756.0 566.3 L1754.3 570.3 L1753.4 574.6 L1749.1 575.7 L1745.0 577.4 L1741.6 580.3 L1739.6 584.3 L1736.1 585.3 L1732.4 585.5 L1729.2 587.5 L1725.7 588.4 L1725.7 594.0 L1729.8 595.5 L1734.0 596.7 L1737.1 598.7 L1740.1 601.0 L1743.7 602.2 L1743.3 606.0 L1745.3 609.5 L1745.0 613.3 L1746.3 616.5 L1746.1 620.0 L1746.1 623.4 L1747.2 626.6 L1747.8 629.9 L1749.6 632.5 L1749.8 635.9 L1752.4 638.0 L1753.4 641.0 L1752.7 644.1 L1751.4 646.9 L1749.2 649.2 L1749.4 653.5 L1747.8 657.5 L1750.3 660.6 L1753.4 663.0 L1754.4 666.3 L1753.5 669.7 L1753.4 673.0 L1753.4 676.4 L1754.7 679.6 L1753.8 682.8 L1754.3 686.2 L1753.7 689.4 L1753.0 692.7 L1753.4 696.0 L1751.9 698.6 L1751.5 701.8 L1749.6 704.2 L1749.6 707.5 L1747.8 710.0 L1746.0 712.6 L1742.9 714.2 L1741.7 717.2 L1739.6 719.6 L1737.0 721.4 L1733.8 721.8 L1731.3 723.7 L1728.5 725.0 L1724.8 726.0 L1721.2 725.9 L1717.5 725.0 L1714.4 723.0 L1711.7 720.6 L1709.2 718.0 L1708.2 714.8 L1705.3 712.8 L1704.6 709.4 L1702.3 707.0 L1699.5 710.1 L1698.0 714.0 L1695.4 716.1 L1692.6 718.0 L1689.1 720.1 L1686.7 723.3 L1684.3 726.5 L1683.0 730.2 L1682.0 734.0 L1680.2 737.5 L1680.0 740.8 L1678.8 744.0 L1679.3 747.4 L1679.7 750.8 L1678.8 754.0 L1679.0 758.2 L1678.8 762.4 L1676.1 765.9 L1673.3 769.3 L1669.5 769.5 L1665.9 768.3 L1662.2 768.0 L1659.5 772.0 L1662.1 774.8 L1662.6 778.8 L1665.0 781.7 L1662.6 783.9 L1659.9 785.7 L1656.6 786.5 L1654.2 788.7 L1651.2 790.0 L1647.8 790.5 L1644.9 792.4 L1641.7 793.5 L1638.3 794.1 L1635.6 796.5 L1632.1 796.7 L1629.1 798.3 L1626.0 798.5 L1623.0 799.4 L1619.8 798.8 L1617.0 801.1 L1613.7 799.9 L1610.8 801.7 L1607.5 800.8 L1604.7 802.6 L1601.5 802.4 L1597.7 802.8 L1594.1 801.5 L1590.4 801.0 L1589.8 797.9 L1587.2 795.8 L1586.3 792.8 L1585.6 789.4 L1585.1 785.9 L1583.7 782.6 L1583.5 779.0 L1582.7 775.7 L1580.9 772.6 L1580.9 769.1 L1580.7 765.6 L1579.4 762.4 L1576.4 759.9 L1573.9 756.9 L1571.5 760.0 L1568.4 762.4 L1567.8 765.6 L1565.2 767.7 L1564.3 770.7 L1562.8 773.4 L1559.5 775.6 L1557.0 778.6 L1554.6 781.7 L1555.0 784.9 L1553.1 787.8 L1552.7 790.9 L1552.6 794.1 L1552.2 797.2 L1552.1 800.3 L1551.7 803.4 L1551.8 806.6 L1550.1 809.2 L1548.9 812.0 L1548.1 815.1 L1546.3 817.6 L1546.5 821.0 L1544.7 824.2 L1544.4 827.5 L1544.9 831.0 L1543.5 834.2 L1540.7 837.0 L1539.7 840.2 L1539.1 843.5 L1538.7 846.7 L1538.0 850.0" fill="none" stroke="#000" stroke-width="1.4"/>
<ellipse cx="1680.5" cy="60" rx="7" ry="5.5" fill="rgb(20,105,48)" stroke="#000" stroke-width="1.3" transform="rotate(-20 1680.5 60)"/>
<ellipse cx="1633" cy="67" rx="4" ry="12" fill="rgb(20,105,48)" stroke="#000" stroke-width="1.3" transform="rotate(10 1633 67)"/>
<ellipse cx="1654" cy="130.5" rx="5" ry="2.5" fill="rgb(20,105,48)" stroke="#000" stroke-width="1.3" transform="rotate(-30 1654 130.5)"/>
<ellipse cx="1767" cy="168.5" rx="2" ry="1.6" fill="rgb(20,105,48)" stroke="#000" stroke-width="1.3"/>
<ellipse cx="1631" cy="268" rx="2.2" ry="2.8" fill="rgb(20,105,48)" stroke="#000" stroke-width="1.3"/>
<ellipse cx="1637.5" cy="294" rx="4.5" ry="6.5" fill="rgb(20,105,48)" stroke="#000" stroke-width="1.3" transform="rotate(15 1637.5 294)"/>
<ellipse cx="1782" cy="262" rx="3.5" ry="2.8" fill="rgb(20,105,48)" stroke="#000" stroke-width="1.3"/>
</g>
<g clip-path="url(#c4)">
<g filter="url(#b5)"><rect x="235" y="892" width="464" height="580" fill="rgb(0,5,218)"/><path d="M400.0 892.0 L400.0 900.0 L400.0 922.0 L365.0 959.0 L330.0 1006.0 L255.0 1057.0 L250.0 1108.0 L250.0 1158.0 L250.0 1210.0 L250.0 1260.0 L250.0 1310.0 L250.0 1361.0 L250.0 1412.0 L250.0 1442.0 L250.0 1460.0 L250.0 1472.0 L699.0 1472.0 L699.0 892.0 Z" fill="rgb(0,35,255)"/><path d="M450.0 892.0 L450.0 900.0 L450.0 922.0 L434.0 959.0 L400.0 1006.0 L306.0 1057.0 L280.0 1108.0 L255.0 1158.0 L250.0 1210.0 L250.0 1260.0 L250.0 1310.0 L250.0 1361.0 L250.0 1412.0 L250.0 1442.0 L250.0 1460.0 L250.0 1472.0 L699.0 1472.0 L699.0 892.0 Z" fill="rgb(0,75,255)"/><path d="M490.0 892.0 L490.0 900.0 L490.0 922.0 L454.0 959.0 L420.0 1006.0 L350.0 1057.0 L310.0 1108.0 L282.0 1158.0 L265.0 1210.0 L255.0 1260.0 L250.0 1310.0 L250.0 1361.0 L250.0 1412.0 L250.0 1442.0 L250.0 1460.0 L250.0 1472.0 L699.0 1472.0 L699.0 892.0 Z" fill="rgb(0,115,255)"/><path d="M510.0 892.0 L510.0 900.0 L510.0 922.0 L474.0 959.0 L440.0 1006.0 L400.0 1057.0 L360.0 1108.0 L316.0 1158.0 L300.0 1210.0 L290.0 1260.0 L270.0 1310.0 L255.0 1361.0 L250.0 1412.0 L250.0 1442.0 L250.0 1460.0 L250.0 1472.0 L699.0 1472.0 L699.0 892.0 Z" fill="rgb(0,150,255)"/><path d="M525.0 892.0 L525.0 900.0 L525.0 922.0 L500.0 959.0 L475.0 1006.0 L450.0 1057.0 L435.0 1108.0 L417.0 1158.0 L380.0 1210.0 L330.0 1260.0 L300.0 1310.0 L280.0 1361.0 L262.0 1412.0 L255.0 1442.0 L255.0 1460.0 L255.0 1472.0 L699.0 1472.0 L699.0 892.0 Z" fill="rgb(0,190,255)"/><path d="M540.0 892.0 L540.0 900.0 L540.0 922.0 L525.0 959.0 L505.0 1006.0 L488.0 1057.0 L478.0 1108.0 L466.0 1158.0 L428.0 1210.0 L375.0 1260.0 L330.0 1310.0 L305.0 1361.0 L278.0 1412.0 L265.0 1442.0 L265.0 1460.0 L265.0 1472.0 L699.0 1472.0 L699.0 892.0 Z" fill="rgb(0,225,255)"/><path d="M552.0 892.0 L552.0 900.0 L552.0 922.0 L540.0 959.0 L520.0 1006.0 L502.0 1057.0 L492.0 1108.0 L480.0 1158.0 L445.0 1210.0 L392.0 1260.0 L348.0 1310.0 L322.0 1361.0 L292.0 1412.0 L275.0 1442.0 L275.0 1460.0 L275.0 1472.0 L699.0 1472.0 L699.0 892.0 Z" fill="rgb(0,250,255)"/><ellipse cx="305" cy="959" rx="40" ry="28" fill="rgb(0,0,185)"/><ellipse cx="400" cy="1210" rx="18" ry="32" fill="rgb(0,220,255)"/></g>
<clipPath id="l4"><path d="M512.0 915.0 L513.7 918.8 L514.0 923.0 L517.2 924.7 L520.6 925.9 L524.0 927.0 L526.9 929.1 L530.6 929.4 L533.8 930.8 L536.6 933.0 L540.0 934.0 L542.8 935.3 L546.0 935.8 L548.7 937.6 L551.8 938.1 L554.7 939.4 L558.3 939.4 L561.7 937.7 L565.3 937.4 L568.9 937.4 L572.2 936.8 L574.9 934.6 L577.8 933.2 L581.0 932.3 L584.8 934.3 L589.0 935.3 L590.6 938.0 L593.1 940.2 L594.2 943.2 L595.8 945.9 L598.4 948.0 L599.4 951.1 L601.4 953.6 L603.2 956.6 L604.0 959.9 L605.6 962.9 L606.5 966.2 L606.4 969.9 L608.5 972.7 L609.5 976.0 L609.4 979.3 L611.1 982.0 L611.6 985.2 L611.9 988.3 L613.0 991.3 L614.8 994.1 L614.7 997.3 L615.6 1000.3 L615.9 1003.6 L617.2 1006.8 L617.9 1010.1 L617.0 1013.7 L618.1 1016.9 L619.2 1020.1 L619.3 1023.5 L619.7 1026.8 L620.6 1029.8 L620.0 1032.9 L620.9 1035.9 L622.0 1038.8 L621.1 1042.0 L622.8 1044.8 L622.9 1047.9 L623.7 1050.8 L622.9 1054.0 L623.7 1057.0 L624.6 1060.0 L624.1 1063.1 L625.1 1066.2 L624.6 1069.3 L624.4 1072.4 L624.9 1075.4 L625.3 1078.5 L625.4 1081.6 L625.7 1084.6 L625.8 1087.7 L625.7 1090.7 L626.7 1093.7 L626.1 1096.8 L626.7 1099.8 L625.6 1102.9 L625.6 1105.9 L627.3 1108.9 L627.2 1111.9 L626.3 1115.0 L626.8 1118.0 L626.7 1121.1 L627.7 1124.1 L626.4 1127.2 L626.0 1130.3 L626.9 1133.3 L627.1 1136.4 L626.7 1139.5 L626.0 1142.6 L627.2 1145.6 L626.8 1148.7 L627.1 1151.7 L627.2 1154.8 L626.3 1157.8 L626.5 1160.8 L626.7 1163.9 L626.4 1166.9 L626.9 1169.9 L626.3 1173.0 L625.0 1175.9 L625.8 1179.0 L624.9 1182.6 L624.8 1186.4 L623.7 1190.0 L621.6 1193.1 L621.3 1197.0 L619.7 1200.3 L619.1 1203.5 L618.4 1206.7 L617.2 1209.7 L616.1 1212.7 L615.0 1215.7 L612.9 1218.4 L612.9 1221.8 L611.5 1224.7 L610.6 1227.6 L608.6 1230.0 L606.8 1232.5 L606.4 1235.7 L604.3 1238.0 L603.6 1241.1 L602.0 1243.6 L600.5 1246.3 L598.6 1248.7 L597.6 1251.6 L596.6 1254.5 L595.3 1257.2 L593.0 1259.3 L591.8 1262.2 L590.0 1264.6 L587.3 1266.5 L586.1 1269.4 L583.9 1271.5 L582.8 1274.5 L580.1 1276.3 L578.7 1279.0 L577.0 1281.6 L574.8 1284.0 L571.5 1285.1 L569.6 1287.7 L567.3 1290.0 L564.9 1292.1 L562.6 1294.4 L560.0 1296.2 L557.0 1297.6 L554.7 1299.9 L552.1 1302.2 L549.1 1303.7 L546.0 1305.2 L543.0 1306.7 L540.2 1308.7 L537.0 1309.8 L534.3 1312.0 L531.5 1313.3 L528.6 1314.0 L525.6 1314.8 L522.9 1316.2 L519.9 1316.9 L517.1 1317.9 L514.0 1318.2 L510.4 1318.6 L507.0 1320.3 L503.3 1320.2 L499.8 1321.2 L496.6 1322.1 L493.2 1321.7 L489.9 1322.1 L486.6 1323.0 L483.2 1322.4 L480.0 1323.2 L476.7 1323.8 L473.4 1324.3 L470.3 1324.9 L467.3 1324.1 L464.2 1324.2 L461.1 1323.7 L458.1 1322.7 L455.0 1323.3 L453.0 1318.2 L453.5 1314.9 L451.8 1311.8 L452.7 1308.5 L453.0 1305.2 L452.0 1302.0 L452.1 1298.9 L451.3 1295.9 L452.7 1292.8 L451.9 1289.8 L452.9 1286.7 L452.7 1283.6 L452.6 1280.6 L452.0 1277.5 L452.7 1274.2 L451.0 1270.9 L452.2 1267.5 L451.1 1264.3 L450.7 1261.0 L451.0 1257.6 L451.3 1254.3 L451.0 1251.0 L446.0 1248.0 L440.9 1250.0 L437.8 1253.2 L434.6 1250.7 L432.7 1247.0 L428.7 1248.1 L424.6 1249.0 L422.2 1251.4 L420.5 1254.5 L418.5 1257.2 L417.1 1260.6 L416.1 1264.1 L414.4 1267.4 L411.5 1266.0 L408.2 1266.8 L405.3 1265.5 L402.2 1265.3 L399.1 1267.1 L396.2 1269.4 L396.7 1272.8 L394.5 1275.8 L395.4 1279.2 L393.6 1282.3 L394.1 1285.7 L392.0 1288.1 L390.7 1290.8 L390.0 1293.8 L386.6 1294.0 L383.6 1295.6 L380.3 1296.4 L377.1 1297.3 L373.8 1297.9 L371.7 1300.2 L371.8 1303.7 L369.7 1306.0 L371.3 1308.8 L371.0 1312.4 L372.3 1315.3 L373.8 1318.2 L373.2 1321.2 L372.5 1324.2 L373.0 1327.3 L372.8 1330.4 L372.7 1334.5 L373.8 1338.5 L376.7 1339.6 L379.2 1341.6 L382.6 1341.4 L385.2 1343.3 L388.0 1344.6 L391.3 1344.7 L394.5 1345.1 L397.8 1344.5 L401.0 1344.9 L404.3 1344.6 L406.9 1347.3 L410.4 1348.7 L411.9 1352.0 L413.6 1355.2 L414.4 1358.8 L416.3 1361.6 L416.5 1365.0 L413.9 1368.7 L412.4 1373.0 L410.4 1375.6 L408.5 1378.2 L406.3 1380.6 L404.3 1383.2 L401.6 1385.3 L398.4 1386.7 L395.4 1388.2 L392.1 1389.3 L388.6 1390.5 L384.9 1390.2 L381.5 1392.1 L377.9 1392.4 L374.3 1393.1 L370.8 1391.7 L367.2 1392.3 L363.6 1392.4 L362.1 1389.5 L362.6 1386.2 L361.6 1383.2 L361.6 1379.8 L361.2 1376.4 L361.1 1373.0 L360.1 1369.7 L359.4 1366.3 L359.6 1362.9 L358.6 1359.3 L357.1 1356.0 L355.5 1352.7 L352.7 1349.4 L349.4 1346.6 L345.5 1348.2 L341.3 1348.7 L339.5 1352.2 L336.9 1355.3 L335.2 1358.8 L332.3 1362.0 L329.1 1365.0 L327.9 1368.3 L327.1 1371.7 L326.0 1375.0 L325.5 1378.4 L326.3 1381.8 L326.0 1385.2 L325.4 1388.6 L326.3 1392.0 L326.0 1395.4 L324.0 1398.8 L321.0 1401.5 L317.6 1401.9 L314.3 1403.5 L310.8 1403.5 L309.2 1406.3 L309.1 1409.7 L307.0 1412.4 L306.7 1415.7 L303.6 1418.7 L300.6 1421.8 L297.0 1421.0 L293.9 1419.0 L290.5 1417.7 L287.0 1416.4 L283.4 1415.7 L279.9 1414.5 L276.3 1413.7 L272.9 1413.9 L269.4 1412.9 L266.0 1413.7 L262.3 1414.1 L258.7 1412.7 L255.0 1413.0 L255.0 1455.0 L680.0 1455.0 L680.0 910.0 Z"/></clipPath>
<clipPath id="p4s"><path d="M255.0 1330.0 L330.0 1330.0 L400.0 1300.0 L460.0 1330.0 L560.0 1325.0 L620.0 1290.0 L669.0 1250.0 L680.0 1250.0 L680.0 1455.0 L255.0 1455.0 Z"/></clipPath>
<g clip-path="url(#l4)"><g filter="url(#b3)"><rect x="265" y="922" width="404" height="520" fill="rgb(10,100,45)"/><path d="M255.0 1330.0 L330.0 1330.0 L400.0 1300.0 L460.0 1330.0 L560.0 1325.0 L620.0 1290.0 L669.0 1250.0 L680.0 1250.0 L680.0 1455.0 L255.0 1455.0 Z" fill="rgb(48,140,58)"/><path d="M520.0 915.0 L590.0 915.0 L600.0 940.0 L560.0 945.0 L520.0 930.0 Z" fill="rgb(60,150,65)"/><path d="M640.0 915.0 L680.0 915.0 L680.0 980.0 L650.0 960.0 Z" fill="rgb(40,130,55)"/><g clip-path="url(#p4s)"><rect x="260" y="917" width="414" height="530" filter="url(#mt6)"/><rect x="260" y="917" width="414" height="530" filter="url(#mt7)"/></g><ellipse cx="420" cy="1285" rx="22" ry="30" fill="rgb(100,178,92)"/><ellipse cx="425" cy="1280" rx="10" ry="14" fill="rgb(150,208,130)"/><ellipse cx="345" cy="1390" rx="15" ry="25" fill="rgb(90,170,85)"/><ellipse cx="540" cy="1385" rx="30" ry="10" fill="rgb(22,110,48)"/><ellipse cx="585" cy="1428" rx="28" ry="16" fill="rgb(215,235,185)"/><ellipse cx="585" cy="1432" rx="14" ry="10" fill="rgb(175,145,75)"/><ellipse cx="650" cy="1418" rx="10" ry="10" fill="rgb(220,235,190)"/><ellipse cx="652" cy="1418" rx="4" ry="4" fill="rgb(190,170,100)"/></g></g>
<path d="M512.0 915.0 L513.7 918.8 L514.0 923.0 L517.2 924.7 L520.6 925.9 L524.0 927.0 L526.9 929.1 L530.6 929.4 L533.8 930.8 L536.6 933.0 L540.0 934.0 L542.8 935.3 L546.0 935.8 L548.7 937.6 L551.8 938.1 L554.7 939.4 L558.3 939.4 L561.7 937.7 L565.3 937.4 L568.9 937.4 L572.2 936.8 L574.9 934.6 L577.8 933.2 L581.0 932.3 L584.8 934.3 L589.0 935.3 L590.6 938.0 L593.1 940.2 L594.2 943.2 L595.8 945.9 L598.4 948.0 L599.4 951.1 L601.4 953.6 L603.2 956.6 L604.0 959.9 L605.6 962.9 L606.5 966.2 L606.4 969.9 L608.5 972.7 L609.5 976.0 L609.4 979.3 L611.1 982.0 L611.6 985.2 L611.9 988.3 L613.0 991.3 L614.8 994.1 L614.7 997.3 L615.6 1000.3 L615.9 1003.6 L617.2 1006.8 L617.9 1010.1 L617.0 1013.7 L618.1 1016.9 L619.2 1020.1 L619.3 1023.5 L619.7 1026.8 L620.6 1029.8 L620.0 1032.9 L620.9 1035.9 L622.0 1038.8 L621.1 1042.0 L622.8 1044.8 L622.9 1047.9 L623.7 1050.8 L622.9 1054.0 L623.7 1057.0 L624.6 1060.0 L624.1 1063.1 L625.1 1066.2 L624.6 1069.3 L624.4 1072.4 L624.9 1075.4 L625.3 1078.5 L625.4 1081.6 L625.7 1084.6 L625.8 1087.7 L625.7 1090.7 L626.7 1093.7 L626.1 1096.8 L626.7 1099.8 L625.6 1102.9 L625.6 1105.9 L627.3 1108.9 L627.2 1111.9 L626.3 1115.0 L626.8 1118.0 L626.7 1121.1 L627.7 1124.1 L626.4 1127.2 L626.0 1130.3 L626.9 1133.3 L627.1 1136.4 L626.7 1139.5 L626.0 1142.6 L627.2 1145.6 L626.8 1148.7 L627.1 1151.7 L627.2 1154.8 L626.3 1157.8 L626.5 1160.8 L626.7 1163.9 L626.4 1166.9 L626.9 1169.9 L626.3 1173.0 L625.0 1175.9 L625.8 1179.0 L624.9 1182.6 L624.8 1186.4 L623.7 1190.0 L621.6 1193.1 L621.3 1197.0 L619.7 1200.3 L619.1 1203.5 L618.4 1206.7 L617.2 1209.7 L616.1 1212.7 L615.0 1215.7 L612.9 1218.4 L612.9 1221.8 L611.5 1224.7 L610.6 1227.6 L608.6 1230.0 L606.8 1232.5 L606.4 1235.7 L604.3 1238.0 L603.6 1241.1 L602.0 1243.6 L600.5 1246.3 L598.6 1248.7 L597.6 1251.6 L596.6 1254.5 L595.3 1257.2 L593.0 1259.3 L591.8 1262.2 L590.0 1264.6 L587.3 1266.5 L586.1 1269.4 L583.9 1271.5 L582.8 1274.5 L580.1 1276.3 L578.7 1279.0 L577.0 1281.6 L574.8 1284.0 L571.5 1285.1 L569.6 1287.7 L567.3 1290.0 L564.9 1292.1 L562.6 1294.4 L560.0 1296.2 L557.0 1297.6 L554.7 1299.9 L552.1 1302.2 L549.1 1303.7 L546.0 1305.2 L543.0 1306.7 L540.2 1308.7 L537.0 1309.8 L534.3 1312.0 L531.5 1313.3 L528.6 1314.0 L525.6 1314.8 L522.9 1316.2 L519.9 1316.9 L517.1 1317.9 L514.0 1318.2 L510.4 1318.6 L507.0 1320.3 L503.3 1320.2 L499.8 1321.2 L496.6 1322.1 L493.2 1321.7 L489.9 1322.1 L486.6 1323.0 L483.2 1322.4 L480.0 1323.2 L476.7 1323.8 L473.4 1324.3 L470.3 1324.9 L467.3 1324.1 L464.2 1324.2 L461.1 1323.7 L458.1 1322.7 L455.0 1323.3 L453.0 1318.2 L453.5 1314.9 L451.8 1311.8 L452.7 1308.5 L453.0 1305.2 L452.0 1302.0 L452.1 1298.9 L451.3 1295.9 L452.7 1292.8 L451.9 1289.8 L452.9 1286.7 L452.7 1283.6 L452.6 1280.6 L452.0 1277.5 L452.7 1274.2 L451.0 1270.9 L452.2 1267.5 L451.1 1264.3 L450.7 1261.0 L451.0 1257.6 L451.3 1254.3 L451.0 1251.0 L446.0 1248.0 L440.9 1250.0 L437.8 1253.2 L434.6 1250.7 L432.7 1247.0 L428.7 1248.1 L424.6 1249.0 L422.2 1251.4 L420.5 1254.5 L418.5 1257.2 L417.1 1260.6 L416.1 1264.1 L414.4 1267.4 L411.5 1266.0 L408.2 1266.8 L405.3 1265.5 L402.2 1265.3 L399.1 1267.1 L396.2 1269.4 L396.7 1272.8 L394.5 1275.8 L395.4 1279.2 L393.6 1282.3 L394.1 1285.7 L392.0 1288.1 L390.7 1290.8 L390.0 1293.8 L386.6 1294.0 L383.6 1295.6 L380.3 1296.4 L377.1 1297.3 L373.8 1297.9 L371.7 1300.2 L371.8 1303.7 L369.7 1306.0 L371.3 1308.8 L371.0 1312.4 L372.3 1315.3 L373.8 1318.2 L373.2 1321.2 L372.5 1324.2 L373.0 1327.3 L372.8 1330.4 L372.7 1334.5 L373.8 1338.5 L376.7 1339.6 L379.2 1341.6 L382.6 1341.4 L385.2 1343.3 L388.0 1344.6 L391.3 1344.7 L394.5 1345.1 L397.8 1344.5 L401.0 1344.9 L404.3 1344.6 L406.9 1347.3 L410.4 1348.7 L411.9 1352.0 L413.6 1355.2 L414.4 1358.8 L416.3 1361.6 L416.5 1365.0 L413.9 1368.7 L412.4 1373.0 L410.4 1375.6 L408.5 1378.2 L406.3 1380.6 L404.3 1383.2 L401.6 1385.3 L398.4 1386.7 L395.4 1388.2 L392.1 1389.3 L388.6 1390.5 L384.9 1390.2 L381.5 1392.1 L377.9 1392.4 L374.3 1393.1 L370.8 1391.7 L367.2 1392.3 L363.6 1392.4 L362.1 1389.5 L362.6 1386.2 L361.6 1383.2 L361.6 1379.8 L361.2 1376.4 L361.1 1373.0 L360.1 1369.7 L359.4 1366.3 L359.6 1362.9 L358.6 1359.3 L357.1 1356.0 L355.5 1352.7 L352.7 1349.4 L349.4 1346.6 L345.5 1348.2 L341.3 1348.7 L339.5 1352.2 L336.9 1355.3 L335.2 1358.8 L332.3 1362.0 L329.1 1365.0 L327.9 1368.3 L327.1 1371.7 L326.0 1375.0 L325.5 1378.4 L326.3 1381.8 L326.0 1385.2 L325.4 1388.6 L326.3 1392.0 L326.0 1395.4 L324.0 1398.8 L321.0 1401.5 L317.6 1401.9 L314.3 1403.5 L310.8 1403.5 L309.2 1406.3 L309.1 1409.7 L307.0 1412.4 L306.7 1415.7 L303.6 1418.7 L300.6 1421.8 L297.0 1421.0 L293.9 1419.0 L290.5 1417.7 L287.0 1416.4 L283.4 1415.7 L279.9 1414.5 L276.3 1413.7 L272.9 1413.9 L269.4 1412.9 L266.0 1413.7 L262.3 1414.1 L258.7 1412.7 L255.0 1413.0" fill="none" stroke="#000" stroke-width="1.4"/>
<ellipse cx="388" cy="1214.5" rx="3" ry="3.5" fill="rgb(20,105,48)" stroke="#000" stroke-width="1.3"/>
<circle cx="621" cy="1136" r="1.6" fill="#000"/><circle cx="622" cy="1143" r="1.6" fill="#000"/>
</g>
<g clip-path="url(#c5)">
<g filter="url(#b5)"><rect x="1035" y="902" width="821" height="559" fill="rgb(0,150,255)"/><path d="M1040.0 985.0 L1150.0 985.0 L1250.0 975.0 L1350.0 990.0 L1450.0 985.0 L1550.0 975.0 L1650.0 990.0 L1750.0 985.0 L1850.0 975.0 L1850.0 1460.0 L1040.0 1460.0 Z" fill="rgb(0,165,255)"/><path d="M1040.0 1020.0 L1150.0 1020.0 L1250.0 1010.0 L1350.0 1025.0 L1450.0 1020.0 L1550.0 1005.0 L1650.0 1010.0 L1750.0 1000.0 L1850.0 990.0 L1850.0 1460.0 L1040.0 1460.0 Z" fill="rgb(0,185,255)"/><path d="M1040.0 1055.0 L1150.0 1055.0 L1250.0 1045.0 L1350.0 1060.0 L1450.0 1060.0 L1550.0 1045.0 L1650.0 1050.0 L1750.0 1040.0 L1850.0 1030.0 L1850.0 1460.0 L1040.0 1460.0 Z" fill="rgb(0,205,255)"/><path d="M1040.0 1085.0 L1150.0 1085.0 L1250.0 1080.0 L1350.0 1095.0 L1450.0 1095.0 L1550.0 1080.0 L1650.0 1085.0 L1750.0 1075.0 L1850.0 1065.0 L1850.0 1460.0 L1040.0 1460.0 Z" fill="rgb(0,225,255)"/><path d="M1040.0 1115.0 L1150.0 1115.0 L1250.0 1110.0 L1350.0 1125.0 L1450.0 1120.0 L1550.0 1110.0 L1650.0 1110.0 L1750.0 1100.0 L1850.0 1090.0 L1850.0 1460.0 L1040.0 1460.0 Z" fill="rgb(0,245,255)"/><ellipse cx="1215" cy="1020" rx="30" ry="35" fill="rgb(0,195,255)"/><ellipse cx="1290" cy="1065" rx="18" ry="12" fill="rgb(0,215,255)"/></g>
<clipPath id="l5"><path d="M1184.0 915.0 L1182.8 918.8 L1183.5 922.7 L1181.1 925.5 L1177.7 926.6 L1176.5 930.0 L1176.8 933.7 L1174.4 936.8 L1175.5 940.7 L1173.8 944.0 L1172.7 947.2 L1172.8 950.4 L1172.1 953.6 L1171.5 956.8 L1172.7 960.2 L1171.9 963.4 L1172.5 966.6 L1172.1 969.9 L1173.3 973.0 L1173.6 976.2 L1174.0 979.4 L1173.8 982.7 L1173.9 986.3 L1174.6 989.7 L1175.5 993.0 L1176.8 996.3 L1176.7 999.5 L1174.8 1002.3 L1175.0 1005.6 L1174.9 1008.8 L1173.8 1011.8 L1174.9 1014.9 L1175.9 1017.9 L1177.5 1020.8 L1177.6 1024.2 L1178.7 1027.2 L1179.9 1031.0 L1180.5 1035.0 L1181.6 1038.8 L1182.3 1042.1 L1184.2 1044.8 L1186.1 1047.5 L1187.4 1050.5 L1189.9 1052.8 L1192.7 1054.7 L1196.1 1055.5 L1199.0 1057.2 L1195.4 1060.0 L1193.2 1064.0 L1194.2 1067.1 L1193.9 1070.2 L1193.9 1073.3 L1192.3 1076.4 L1193.2 1079.5 L1191.5 1082.5 L1190.2 1085.7 L1189.3 1089.0 L1187.8 1092.2 L1185.5 1095.0 L1187.0 1097.7 L1187.9 1100.8 L1190.8 1102.7 L1192.3 1105.4 L1193.2 1108.5 L1194.4 1111.8 L1193.8 1115.2 L1193.3 1118.7 L1194.2 1122.0 L1192.5 1124.5 L1191.1 1127.3 L1189.3 1129.8 L1191.9 1132.4 L1194.9 1134.5 L1197.0 1137.5 L1198.3 1140.5 L1201.1 1142.2 L1203.3 1144.4 L1204.8 1147.2 L1207.9 1148.3 L1210.6 1150.1 L1209.0 1153.5 L1209.0 1157.3 L1207.7 1160.8 L1210.7 1162.1 L1214.0 1161.4 L1217.2 1162.1 L1220.3 1162.7 L1223.8 1162.4 L1226.8 1164.6 L1230.1 1165.0 L1233.6 1164.9 L1237.0 1164.7 L1240.2 1166.0 L1243.5 1166.6 L1246.7 1166.1 L1250.0 1166.7 L1253.3 1166.7 L1256.5 1166.0 L1259.6 1164.8 L1262.9 1165.0 L1266.1 1164.0 L1269.3 1165.7 L1272.6 1165.7 L1275.8 1164.1 L1279.0 1164.7 L1282.2 1164.6 L1285.4 1164.8 L1288.6 1166.0 L1291.9 1164.4 L1295.1 1164.6 L1298.3 1166.4 L1301.5 1166.1 L1304.8 1166.1 L1307.9 1166.9 L1311.2 1166.6 L1314.4 1167.0 L1317.6 1167.4 L1320.9 1166.7 L1324.2 1166.6 L1327.4 1166.7 L1330.6 1167.5 L1333.8 1168.4 L1337.1 1168.0 L1340.3 1168.5 L1343.5 1167.9 L1346.8 1168.1 L1350.0 1168.0 L1353.2 1167.4 L1356.3 1166.5 L1359.6 1166.6 L1362.7 1167.9 L1366.0 1168.5 L1369.1 1169.3 L1372.4 1169.9 L1376.0 1168.8 L1379.0 1170.4 L1382.2 1171.0 L1385.5 1170.5 L1388.7 1170.8 L1391.9 1171.3 L1395.2 1170.8 L1398.4 1171.2 L1401.5 1172.9 L1404.8 1171.8 L1408.0 1172.4 L1411.2 1173.2 L1414.4 1172.8 L1417.6 1172.0 L1420.8 1172.0 L1424.0 1172.6 L1427.2 1172.8 L1430.4 1172.1 L1433.6 1171.5 L1436.8 1171.7 L1440.0 1172.4 L1443.1 1172.9 L1446.1 1172.4 L1449.0 1170.9 L1452.2 1172.1 L1455.1 1171.3 L1458.1 1170.6 L1461.2 1171.5 L1464.1 1169.7 L1467.2 1169.4 L1470.2 1169.7 L1473.3 1170.2 L1476.3 1169.6 L1479.3 1169.2 L1482.4 1169.8 L1485.4 1168.5 L1488.4 1168.5 L1491.5 1169.4 L1494.9 1168.2 L1497.9 1170.1 L1501.2 1169.2 L1504.3 1170.5 L1507.4 1171.2 L1510.6 1171.2 L1513.8 1171.4 L1517.0 1171.7 L1520.1 1172.4 L1523.4 1172.0 L1526.6 1172.1 L1529.7 1173.1 L1532.9 1173.3 L1536.1 1172.9 L1539.2 1171.6 L1542.6 1171.9 L1545.8 1171.3 L1548.9 1170.2 L1552.2 1170.4 L1555.6 1170.4 L1558.9 1170.1 L1562.1 1168.8 L1565.6 1169.5 L1569.0 1169.3 L1572.2 1168.2 L1575.5 1167.5 L1578.3 1166.1 L1581.1 1164.7 L1583.8 1163.2 L1587.0 1162.7 L1587.1 1159.5 L1589.0 1156.6 L1587.6 1153.1 L1589.0 1150.1 L1592.0 1149.2 L1594.3 1147.2 L1596.7 1145.3 L1600.3 1145.1 L1603.5 1143.0 L1607.3 1143.2 L1610.6 1141.6 L1614.2 1141.4 L1617.4 1141.5 L1620.7 1141.6 L1623.9 1141.2 L1627.1 1140.6 L1630.4 1141.1 L1633.5 1139.6 L1636.7 1139.2 L1640.0 1140.4 L1643.2 1139.5 L1646.0 1138.2 L1649.1 1138.4 L1652.1 1138.0 L1655.2 1138.5 L1658.0 1137.0 L1661.1 1137.0 L1664.0 1136.4 L1667.0 1135.9 L1670.0 1135.4 L1673.0 1135.0 L1676.0 1134.8 L1678.9 1134.0 L1681.9 1133.7 L1684.8 1132.8 L1687.9 1133.0 L1690.9 1132.3 L1693.4 1130.1 L1696.7 1130.7 L1699.1 1128.2 L1702.2 1128.0 L1705.4 1128.3 L1707.9 1126.1 L1711.0 1126.0 L1714.0 1125.7 L1717.1 1125.8 L1720.0 1124.4 L1722.9 1123.5 L1725.7 1122.1 L1728.8 1122.3 L1731.8 1121.7 L1734.9 1121.8 L1737.7 1120.4 L1740.8 1120.6 L1743.6 1119.2 L1746.7 1119.1 L1749.6 1118.2 L1752.9 1118.2 L1755.8 1116.5 L1759.3 1117.5 L1762.3 1116.0 L1765.5 1115.5 L1768.8 1116.0 L1771.8 1114.6 L1775.0 1114.0 L1778.1 1112.9 L1781.2 1112.4 L1784.5 1112.4 L1787.6 1111.9 L1790.3 1110.5 L1793.3 1109.8 L1796.2 1108.9 L1799.1 1107.9 L1801.8 1106.2 L1805.0 1106.3 L1807.7 1104.6 L1810.7 1103.3 L1813.5 1101.6 L1817.0 1101.8 L1820.0 1100.6 L1822.5 1098.0 L1826.0 1098.3 L1828.9 1096.7 L1831.6 1094.7 L1834.8 1094.0 L1838.3 1092.8 L1841.9 1092.1 L1845.0 1090.0 L1845.0 1455.0 L1045.0 1455.0 L1045.0 915.0 Z"/></clipPath>
<g clip-path="url(#l5)"><g filter="url(#b3)"><rect x="1045" y="912" width="801" height="539" fill="rgb(50,148,62)"/><path d="M1143.0 915.0 L1184.0 915.0 L1183.5 922.7 L1177.7 926.6 L1173.8 944.0 L1171.9 963.4 L1173.8 982.7 L1176.8 996.3 L1173.8 1011.8 L1178.7 1027.2 L1181.6 1038.8 L1187.4 1050.5 L1199.0 1057.2 L1193.2 1064.0 L1193.2 1079.5 L1189.3 1089.0 L1185.5 1095.0 L1193.2 1108.5 L1194.2 1122.0 L1189.3 1129.8 L1197.0 1137.5 L1204.8 1147.2 L1210.6 1150.1 L1207.7 1160.8 L1220.3 1162.7 L1243.5 1166.6 L1262.9 1165.0 L1282.2 1164.6 L1311.2 1166.6 L1340.3 1168.5 L1359.6 1166.6 L1379.0 1170.4 L1408.0 1172.4 L1440.0 1172.4 L1488.4 1168.5 L1532.9 1173.3 L1552.2 1170.4 L1575.5 1167.5 L1587.0 1162.7 L1589.0 1150.1 L1596.7 1145.3 L1614.2 1141.4 L1643.2 1139.5 L1681.9 1133.7 L1711.0 1126.0 L1749.6 1118.2 L1784.5 1112.4 L1807.7 1104.6 L1834.8 1094.0 L1845.0 1090.0 L1845.0 1150.0 L1760.0 1165.0 L1700.0 1185.0 L1640.0 1210.0 L1625.0 1270.0 L1560.0 1285.0 L1450.0 1300.0 L1359.0 1300.0 L1291.0 1285.0 L1257.0 1268.0 L1224.0 1238.0 L1190.0 1205.0 L1145.0 1172.0 L1120.0 1124.0 L1124.0 1057.0 Z" fill="rgb(22,110,48)"/><path d="M1430.0 1185.0 L1600.0 1190.0 L1615.0 1262.0 L1560.0 1272.0 L1450.0 1282.0 L1430.0 1240.0 Z" fill="rgb(18,104,46)"/><path d="M1560.0 1310.0 L1620.0 1330.0 L1700.0 1350.0 L1720.0 1385.0 L1700.0 1395.0 L1640.0 1372.0 L1580.0 1345.0 Z" fill="rgb(24,110,48)"/><path d="M1620.0 1180.0 L1845.0 1150.0 L1845.0 1280.0 L1700.0 1290.0 L1640.0 1270.0 Z" fill="rgb(38,130,54)"/><rect x="1050" y="917" width="791" height="529" filter="url(#mt8)"/><rect x="1050" y="917" width="791" height="529" filter="url(#mt9)"/><path d="M1045.0 915.0 L1122.0 915.0 L1105.0 1000.0 L1095.0 1060.0 L1094.0 1124.0 L1112.0 1165.0 L1160.0 1195.0 L1200.0 1222.0 L1230.0 1250.0 L1250.0 1285.0 L1270.0 1320.0 L1300.0 1345.0 L1350.0 1365.0 L1450.0 1380.0 L1560.0 1378.0 L1650.0 1380.0 L1664.0 1441.0 L1045.0 1441.0 Z" fill="rgb(150,212,130)"/><path d="M1722.0 1276.0 L1845.0 1270.0 L1845.0 1441.0 L1752.0 1441.0 L1748.0 1380.0 Z" fill="rgb(120,195,105)"/><path d="M1745.0 1320.0 L1845.0 1315.0 L1845.0 1441.0 L1755.0 1441.0 Z" fill="rgb(165,220,145)"/><path d="M1045.0 915.0 L1102.0 915.0 L1085.0 960.0 L1068.0 1023.0 L1062.0 1080.0 L1064.0 1130.0 L1075.0 1165.0 L1095.0 1182.0 L1139.0 1205.0 L1183.0 1222.0 L1210.0 1242.0 L1227.0 1276.0 L1237.0 1310.0 L1245.0 1345.0 L1265.0 1375.0 L1325.0 1396.0 L1392.0 1406.0 L1450.0 1410.0 L1560.0 1406.0 L1652.0 1395.0 L1664.0 1441.0 L1045.0 1441.0 Z" fill="rgb(230,246,200)"/><path d="M1745.0 1360.0 L1845.0 1358.0 L1845.0 1441.0 L1745.0 1441.0 Z" fill="rgb(230,246,200)"/><path d="M1045.0 1040.0 L1058.0 1060.0 L1058.0 1120.0 L1062.0 1150.0 L1080.0 1175.0 L1110.0 1192.0 L1139.0 1205.0 L1183.0 1224.0 L1203.0 1245.0 L1215.0 1276.0 L1222.0 1310.0 L1215.0 1335.0 L1195.0 1350.0 L1180.0 1365.0 L1195.0 1385.0 L1225.0 1400.0 L1265.0 1413.0 L1325.0 1420.0 L1392.0 1425.0 L1450.0 1428.0 L1560.0 1428.0 L1650.0 1425.0 L1664.0 1441.0 L1045.0 1441.0 Z" fill="rgb(195,170,100)"/><path d="M1748.0 1392.0 L1845.0 1390.0 L1845.0 1441.0 L1745.0 1441.0 Z" fill="rgb(195,170,100)"/><path d="M1045.0 915.0 L1089.0 915.0 L1075.0 940.0 L1068.0 956.0 L1062.0 990.0 L1058.0 1020.0 L1045.0 1030.0 Z" fill="rgb(108,48,4)"/><path d="M1045.0 1200.0 L1060.0 1215.0 L1090.0 1232.0 L1130.0 1240.0 L1155.0 1250.0 L1162.0 1280.0 L1160.0 1310.0 L1142.0 1338.0 L1122.0 1360.0 L1140.0 1378.0 L1170.0 1395.0 L1207.0 1411.0 L1240.0 1428.0 L1262.0 1441.0 L1045.0 1441.0 Z" fill="rgb(108,48,4)"/><ellipse cx="1105" cy="1318" rx="24" ry="32" fill="rgb(178,138,70)"/><ellipse cx="1185" cy="1263" rx="23" ry="18" fill="rgb(108,48,4)"/><ellipse cx="1222" cy="1303" rx="7" ry="16" fill="rgb(108,48,4)" transform="rotate(-30 1222 1303)"/><path d="M1768.0 1441.0 L1790.0 1425.0 L1845.0 1418.0 L1845.0 1441.0 Z" fill="rgb(108,48,4)"/><path d="M1260.0 1441.0 L1330.0 1436.0 L1400.0 1441.0 Z" fill="rgb(160,118,55)"/><path d="M1123 1441 L1160 1405 L1205 1369" stroke="rgb(215,225,170)" stroke-width="5" fill="none"/><path d="M1485 1300 L1500 1330 L1508 1360 L1512 1395 L1505 1430 L1495 1441" stroke="rgb(110,185,100)" stroke-width="5" fill="none"/><path d="M1440 1290 L1470 1300 L1490 1330" stroke="rgb(100,175,95)" stroke-width="4" fill="none"/><path d="M1500 1300 L1530 1290 L1555 1280" stroke="rgb(100,175,95)" stroke-width="4" fill="none"/></g></g>
<path d="M1184.0 915.0 L1182.8 918.8 L1183.5 922.7 L1181.1 925.5 L1177.7 926.6 L1176.5 930.0 L1176.8 933.7 L1174.4 936.8 L1175.5 940.7 L1173.8 944.0 L1172.7 947.2 L1172.8 950.4 L1172.1 953.6 L1171.5 956.8 L1172.7 960.2 L1171.9 963.4 L1172.5 966.6 L1172.1 969.9 L1173.3 973.0 L1173.6 976.2 L1174.0 979.4 L1173.8 982.7 L1173.9 986.3 L1174.6 989.7 L1175.5 993.0 L1176.8 996.3 L1176.7 999.5 L1174.8 1002.3 L1175.0 1005.6 L1174.9 1008.8 L1173.8 1011.8 L1174.9 1014.9 L1175.9 1017.9 L1177.5 1020.8 L1177.6 1024.2 L1178.7 1027.2 L1179.9 1031.0 L1180.5 1035.0 L1181.6 1038.8 L1182.3 1042.1 L1184.2 1044.8 L1186.1 1047.5 L1187.4 1050.5 L1189.9 1052.8 L1192.7 1054.7 L1196.1 1055.5 L1199.0 1057.2 L1195.4 1060.0 L1193.2 1064.0 L1194.2 1067.1 L1193.9 1070.2 L1193.9 1073.3 L1192.3 1076.4 L1193.2 1079.5 L1191.5 1082.5 L1190.2 1085.7 L1189.3 1089.0 L1187.8 1092.2 L1185.5 1095.0 L1187.0 1097.7 L1187.9 1100.8 L1190.8 1102.7 L1192.3 1105.4 L1193.2 1108.5 L1194.4 1111.8 L1193.8 1115.2 L1193.3 1118.7 L1194.2 1122.0 L1192.5 1124.5 L1191.1 1127.3 L1189.3 1129.8 L1191.9 1132.4 L1194.9 1134.5 L1197.0 1137.5 L1198.3 1140.5 L1201.1 1142.2 L1203.3 1144.4 L1204.8 1147.2 L1207.9 1148.3 L1210.6 1150.1 L1209.0 1153.5 L1209.0 1157.3 L1207.7 1160.8 L1210.7 1162.1 L1214.0 1161.4 L1217.2 1162.1 L1220.3 1162.7 L1223.8 1162.4 L1226.8 1164.6 L1230.1 1165.0 L1233.6 1164.9 L1237.0 1164.7 L1240.2 1166.0 L1243.5 1166.6 L1246.7 1166.1 L1250.0 1166.7 L1253.3 1166.7 L1256.5 1166.0 L1259.6 1164.8 L1262.9 1165.0 L1266.1 1164.0 L1269.3 1165.7 L1272.6 1165.7 L1275.8 1164.1 L1279.0 1164.7 L1282.2 1164.6 L1285.4 1164.8 L1288.6 1166.0 L1291.9 1164.4 L1295.1 1164.6 L1298.3 1166.4 L1301.5 1166.1 L1304.8 1166.1 L1307.9 1166.9 L1311.2 1166.6 L1314.4 1167.0 L1317.6 1167.4 L1320.9 1166.7 L1324.2 1166.6 L1327.4 1166.7 L1330.6 1167.5 L1333.8 1168.4 L1337.1 1168.0 L1340.3 1168.5 L1343.5 1167.9 L1346.8 1168.1 L1350.0 1168.0 L1353.2 1167.4 L1356.3 1166.5 L1359.6 1166.6 L1362.7 1167.9 L1366.0 1168.5 L1369.1 1169.3 L1372.4 1169.9 L1376.0 1168.8 L1379.0 1170.4 L1382.2 1171.0 L1385.5 1170.5 L1388.7 1170.8 L1391.9 1171.3 L1395.2 1170.8 L1398.4 1171.2 L1401.5 1172.9 L1404.8 1171.8 L1408.0 1172.4 L1411.2 1173.2 L1414.4 1172.8 L1417.6 1172.0 L1420.8 1172.0 L1424.0 1172.6 L1427.2 1172.8 L1430.4 1172.1 L1433.6 1171.5 L1436.8 1171.7 L1440.0 1172.4 L1443.1 1172.9 L1446.1 1172.4 L1449.0 1170.9 L1452.2 1172.1 L1455.1 1171.3 L1458.1 1170.6 L1461.2 1171.5 L1464.1 1169.7 L1467.2 1169.4 L1470.2 1169.7 L1473.3 1170.2 L1476.3 1169.6 L1479.3 1169.2 L1482.4 1169.8 L1485.4 1168.5 L1488.4 1168.5 L1491.5 1169.4 L1494.9 1168.2 L1497.9 1170.1 L1501.2 1169.2 L1504.3 1170.5 L1507.4 1171.2 L1510.6 1171.2 L1513.8 1171.4 L1517.0 1171.7 L1520.1 1172.4 L1523.4 1172.0 L1526.6 1172.1 L1529.7 1173.1 L1532.9 1173.3 L1536.1 1172.9 L1539.2 1171.6 L1542.6 1171.9 L1545.8 1171.3 L1548.9 1170.2 L1552.2 1170.4 L1555.6 1170.4 L1558.9 1170.1 L1562.1 1168.8 L1565.6 1169.5 L1569.0 1169.3 L1572.2 1168.2 L1575.5 1167.5 L1578.3 1166.1 L1581.1 1164.7 L1583.8 1163.2 L1587.0 1162.7 L1587.1 1159.5 L1589.0 1156.6 L1587.6 1153.1 L1589.0 1150.1 L1592.0 1149.2 L1594.3 1147.2 L1596.7 1145.3 L1600.3 1145.1 L1603.5 1143.0 L1607.3 1143.2 L1610.6 1141.6 L1614.2 1141.4 L1617.4 1141.5 L1620.7 1141.6 L1623.9 1141.2 L1627.1 1140.6 L1630.4 1141.1 L1633.5 1139.6 L1636.7 1139.2 L1640.0 1140.4 L1643.2 1139.5 L1646.0 1138.2 L1649.1 1138.4 L1652.1 1138.0 L1655.2 1138.5 L1658.0 1137.0 L1661.1 1137.0 L1664.0 1136.4 L1667.0 1135.9 L1670.0 1135.4 L1673.0 1135.0 L1676.0 1134.8 L1678.9 1134.0 L1681.9 1133.7 L1684.8 1132.8 L1687.9 1133.0 L1690.9 1132.3 L1693.4 1130.1 L1696.7 1130.7 L1699.1 1128.2 L1702.2 1128.0 L1705.4 1128.3 L1707.9 1126.1 L1711.0 1126.0 L1714.0 1125.7 L1717.1 1125.8 L1720.0 1124.4 L1722.9 1123.5 L1725.7 1122.1 L1728.8 1122.3 L1731.8 1121.7 L1734.9 1121.8 L1737.7 1120.4 L1740.8 1120.6 L1743.6 1119.2 L1746.7 1119.1 L1749.6 1118.2 L1752.9 1118.2 L1755.8 1116.5 L1759.3 1117.5 L1762.3 1116.0 L1765.5 1115.5 L1768.8 1116.0 L1771.8 1114.6 L1775.0 1114.0 L1778.1 1112.9 L1781.2 1112.4 L1784.5 1112.4 L1787.6 1111.9 L1790.3 1110.5 L1793.3 1109.8 L1796.2 1108.9 L1799.1 1107.9 L1801.8 1106.2 L1805.0 1106.3 L1807.7 1104.6 L1810.7 1103.3 L1813.5 1101.6 L1817.0 1101.8 L1820.0 1100.6 L1822.5 1098.0 L1826.0 1098.3 L1828.9 1096.7 L1831.6 1094.7 L1834.8 1094.0 L1838.3 1092.8 L1841.9 1092.1 L1845.0 1090.0" fill="none" stroke="#000" stroke-width="1.6"/>
<ellipse cx="1229" cy="1154" rx="4" ry="4" fill="rgb(20,105,48)" stroke="#000" stroke-width="1.3"/>
<ellipse cx="1585" cy="1184" rx="8" ry="3" fill="rgb(20,105,48)" stroke="#000" stroke-width="1.3" transform="rotate(-15 1585 1184)"/>
<circle cx="1374" cy="1148" r="1.8" fill="#000"/>
<circle cx="1399" cy="1155" r="1.8" fill="#000"/>
<circle cx="1215" cy="1172" r="1.8" fill="#000"/>
<circle cx="1242" cy="1178" r="1.8" fill="#000"/>
</g>
<rect x="113" y="17" width="365" height="821" fill="none" stroke="#000" stroke-width="1.6"/>
<path d="M113.0 838v-8M113.0 17v8M295.5 838v-8M295.5 17v8M478.0 838v-8M478.0 17v8M113 17.0h8M478 17.0h-8M113 108.2h8M478 108.2h-8M113 199.4h8M478 199.4h-8M113 290.7h8M478 290.7h-8M113 381.9h8M478 381.9h-8M113 473.1h8M478 473.1h-8M113 564.3h8M478 564.3h-8M113 655.6h8M478 655.6h-8M113 746.8h8M478 746.8h-8M113 838.0h8M478 838.0h-8" stroke="#000" stroke-width="1.6" fill="none"/>
<text x="108.0" y="879" class="tm">-74</text>
<text x="290.5" y="879" class="tm">-72</text>
<text x="473.0" y="879" class="tm">-70</text>
<text x="105" y="29.7" class="te">-26</text>
<text x="105" y="120.9" class="te">-27</text>
<text x="105" y="212.1" class="te">-28</text>
<text x="105" y="303.4" class="te">-29</text>
<text x="105" y="394.6" class="te">-30</text>
<text x="105" y="485.8" class="te">-31</text>
<text x="105" y="577.0" class="te">-32</text>
<text x="105" y="668.3" class="te">-33</text>
<text x="105" y="759.5" class="te">-34</text>
<text x="105" y="850.7" class="te">-35</text>
<rect x="788" y="17" width="385" height="821" fill="none" stroke="#000" stroke-width="1.6"/>
<path d="M788.0 838v-8M788.0 17v8M916.3 838v-8M916.3 17v8M1044.7 838v-8M1044.7 17v8M1173.0 838v-8M1173.0 17v8M788 67.3h8M1173 67.3h-8M788 195.8h8M1173 195.8h-8M788 324.2h8M1173 324.2h-8M788 452.7h8M1173 452.7h-8M788 581.1h8M1173 581.1h-8M788 709.5h8M1173 709.5h-8M788 838.0h8M1173 838.0h-8" stroke="#000" stroke-width="1.6" fill="none"/>
<text x="783.0" y="879" class="tm">-72.5</text>
<text x="911.3" y="879" class="tm">-72</text>
<text x="1039.7" y="879" class="tm">-71.5</text>
<text x="1168.0" y="879" class="tm">-71</text>
<text x="780" y="80.0" class="te">-29</text>
<text x="780" y="208.4" class="te">-29.5</text>
<text x="780" y="336.9" class="te">-30</text>
<text x="780" y="465.4" class="te">-30.5</text>
<text x="780" y="593.8" class="te">-31</text>
<text x="780" y="722.2" class="te">-31.5</text>
<text x="780" y="850.7" class="te">-32</text>
<rect x="1487" y="17" width="357" height="821" fill="none" stroke="#000" stroke-width="1.6"/>
<path d="M1595.0 838v-8M1595.0 17v8M1733.8 838v-8M1733.8 17v8M1487 17.0h8M1844 17.0h-8M1487 159.6h8M1844 159.6h-8M1487 302.2h8M1844 302.2h-8M1487 444.8h8M1844 444.8h-8M1487 587.4h8M1844 587.4h-8M1487 730.0h8M1844 730.0h-8" stroke="#000" stroke-width="1.6" fill="none"/>
<text x="1590.0" y="879" class="tm">-71.6</text>
<text x="1728.8" y="879" class="tm">-71.4</text>
<text x="1479" y="29.7" class="te">-29.2</text>
<text x="1479" y="172.3" class="te">-29.4</text>
<text x="1479" y="314.9" class="te">-29.6</text>
<text x="1479" y="457.5" class="te">-29.8</text>
<text x="1479" y="600.1" class="te">-30</text>
<text x="1479" y="742.7" class="te">-30.2</text>
<rect x="265" y="922" width="404" height="520" fill="none" stroke="#000" stroke-width="1.6"/>
<path d="M265.0 1442v-8M265.0 922v8M409.4 1442v-8M409.4 922v8M553.7 1442v-8M553.7 922v8M265 1008.0h8M669 1008.0h-8M265 1152.7h8M669 1152.7h-8M265 1297.3h8M669 1297.3h-8M265 1442.0h8M669 1442.0h-8" stroke="#000" stroke-width="1.6" fill="none"/>
<text x="260.0" y="1483" class="tm">-71.4</text>
<text x="404.4" y="1483" class="tm">-71.35</text>
<text x="548.7" y="1483" class="tm">-71.3</text>
<text x="257" y="1020.7" class="te">-29.85</text>
<text x="257" y="1165.4" class="te">-29.9</text>
<text x="257" y="1310.0" class="te">-29.95</text>
<text x="257" y="1454.7" class="te">-30</text>
<rect x="1055" y="922" width="781" height="519" fill="none" stroke="#000" stroke-width="1.6"/>
<path d="M1055.0 1441v-8M1055.0 922v8M1185.2 1441v-8M1185.2 922v8M1315.3 1441v-8M1315.3 922v8M1445.5 1441v-8M1445.5 922v8M1575.7 1441v-8M1575.7 922v8M1705.8 1441v-8M1705.8 922v8M1836.0 1441v-8M1836.0 922v8M1055 922.0h8M1836 922.0h-8M1055 1051.7h8M1836 1051.7h-8M1055 1181.5h8M1836 1181.5h-8M1055 1311.3h8M1836 1311.3h-8M1055 1441.0h8M1836 1441.0h-8" stroke="#000" stroke-width="1.6" fill="none"/>
<text x="1050.0" y="1482" class="tm">-71.34</text>
<text x="1180.2" y="1482" class="tm">-71.335</text>
<text x="1310.3" y="1482" class="tm">-71.33</text>
<text x="1440.5" y="1482" class="tm">-71.325</text>
<text x="1570.7" y="1482" class="tm">-71.32</text>
<text x="1700.8" y="1482" class="tm">-71.315</text>
<text x="1831.0" y="1482" class="tm">-71.31</text>
<text x="1047" y="934.7" class="te">-29.95</text>
<text x="1047" y="1064.4" class="te">-29.955</text>
<text x="1047" y="1194.2" class="te">-29.96</text>
<text x="1047" y="1324.0" class="te">-29.965</text>
<text x="1047" y="1453.7" class="te">-29.97</text>
<rect x="523" y="17.00" width="59" height="13.45" fill="#6b2f00"/>
<rect x="523" y="29.85" width="59" height="13.45" fill="#773d08"/>
<rect x="523" y="42.70" width="59" height="13.45" fill="#7f4c12"/>
<rect x="523" y="55.56" width="59" height="13.45" fill="#88601c"/>
<rect x="523" y="68.41" width="59" height="13.45" fill="#907424"/>
<rect x="523" y="81.26" width="59" height="13.45" fill="#9e8630"/>
<rect x="523" y="94.11" width="59" height="13.45" fill="#a89a3a"/>
<rect x="523" y="106.96" width="59" height="13.45" fill="#b2ac48"/>
<rect x="523" y="119.81" width="59" height="13.45" fill="#b8b658"/>
<rect x="523" y="132.67" width="59" height="13.45" fill="#c0c270"/>
<rect x="523" y="145.52" width="59" height="13.45" fill="#c8d488"/>
<rect x="523" y="158.37" width="59" height="13.45" fill="#d2e29c"/>
<rect x="523" y="171.22" width="59" height="13.45" fill="#dcecb4"/>
<rect x="523" y="184.07" width="59" height="13.45" fill="#e6fad0"/>
<rect x="523" y="196.93" width="59" height="13.45" fill="#d4f0bc"/>
<rect x="523" y="209.78" width="59" height="13.45" fill="#b8e6a4"/>
<rect x="523" y="222.63" width="59" height="13.45" fill="#a0dc8e"/>
<rect x="523" y="235.48" width="59" height="13.45" fill="#88cf7a"/>
<rect x="523" y="248.33" width="59" height="13.45" fill="#70c068"/>
<rect x="523" y="261.19" width="59" height="13.45" fill="#58b256"/>
<rect x="523" y="274.04" width="59" height="13.45" fill="#44a648"/>
<rect x="523" y="286.89" width="59" height="13.45" fill="#36983e"/>
<rect x="523" y="299.74" width="59" height="13.45" fill="#2a8a38"/>
<rect x="523" y="312.59" width="59" height="13.45" fill="#1f7c34"/>
<rect x="523" y="325.44" width="59" height="13.45" fill="#167030"/>
<rect x="523" y="338.30" width="59" height="13.45" fill="#0f652e"/>
<rect x="523" y="351.15" width="59" height="13.45" fill="#0a5c2c"/>
<rect x="523" y="364.00" width="59" height="13.77" fill="#00f7ff"/>
<rect x="523" y="377.17" width="59" height="13.77" fill="#00e9ff"/>
<rect x="523" y="390.33" width="59" height="13.77" fill="#00daff"/>
<rect x="523" y="403.50" width="59" height="13.77" fill="#00cbff"/>
<rect x="523" y="416.67" width="59" height="13.77" fill="#00bdff"/>
<rect x="523" y="429.83" width="59" height="13.77" fill="#00aeff"/>
<rect x="523" y="443.00" width="59" height="13.77" fill="#00a0ff"/>
<rect x="523" y="456.17" width="59" height="13.77" fill="#0091ff"/>
<rect x="523" y="469.33" width="59" height="13.77" fill="#0082ff"/>
<rect x="523" y="482.50" width="59" height="13.77" fill="#0074ff"/>
<rect x="523" y="495.67" width="59" height="13.77" fill="#0065ff"/>
<rect x="523" y="508.83" width="59" height="13.77" fill="#0057ff"/>
<rect x="523" y="522.00" width="59" height="13.77" fill="#0048ff"/>
<rect x="523" y="535.17" width="59" height="13.77" fill="#0039ff"/>
<rect x="523" y="548.33" width="59" height="13.77" fill="#002bff"/>
<rect x="523" y="561.50" width="59" height="13.77" fill="#001cff"/>
<rect x="523" y="574.67" width="59" height="13.77" fill="#000eff"/>
<rect x="523" y="587.83" width="59" height="13.77" fill="#0000fe"/>
<rect x="523" y="601.00" width="59" height="13.77" fill="#0000f3"/>
<rect x="523" y="614.17" width="59" height="13.77" fill="#0101e8"/>
<rect x="523" y="627.33" width="59" height="13.77" fill="#0101dd"/>
<rect x="523" y="640.50" width="59" height="13.77" fill="#0202d2"/>
<rect x="523" y="653.67" width="59" height="13.77" fill="#0202c7"/>
<rect x="523" y="666.83" width="59" height="13.77" fill="#0303bc"/>
<rect x="523" y="680.00" width="59" height="13.77" fill="#0303b1"/>
<rect x="523" y="693.17" width="59" height="13.77" fill="#0404a6"/>
<rect x="523" y="706.33" width="59" height="13.77" fill="#04049b"/>
<rect x="523" y="719.50" width="59" height="13.77" fill="#05058f"/>
<rect x="523" y="732.67" width="59" height="13.77" fill="#050584"/>
<rect x="523" y="745.83" width="59" height="13.77" fill="#060679"/>
<rect x="523" y="759.00" width="59" height="13.77" fill="#07076e"/>
<rect x="523" y="772.17" width="59" height="13.77" fill="#070763"/>
<rect x="523" y="785.33" width="59" height="13.77" fill="#080858"/>
<rect x="523" y="798.50" width="59" height="13.77" fill="#08084d"/>
<rect x="523" y="811.67" width="59" height="13.77" fill="#090942"/>
<rect x="523" y="824.83" width="59" height="13.77" fill="#090937"/>
<rect x="523" y="17" width="59" height="821" fill="none" stroke="#000" stroke-width="1.6"/>
<rect x="1216" y="17.00" width="58" height="13.45" fill="#6b2f00"/>
<rect x="1216" y="29.85" width="58" height="13.45" fill="#773d08"/>
<rect x="1216" y="42.70" width="58" height="13.45" fill="#7f4c12"/>
<rect x="1216" y="55.56" width="58" height="13.45" fill="#88601c"/>
<rect x="1216" y="68.41" width="58" height="13.45" fill="#907424"/>
<rect x="1216" y="81.26" width="58" height="13.45" fill="#9e8630"/>
<rect x="1216" y="94.11" width="58" height="13.45" fill="#a89a3a"/>
<rect x="1216" y="106.96" width="58" height="13.45" fill="#b2ac48"/>
<rect x="1216" y="119.81" width="58" height="13.45" fill="#b8b658"/>
<rect x="1216" y="132.67" width="58" height="13.45" fill="#c0c270"/>
<rect x="1216" y="145.52" width="58" height="13.45" fill="#c8d488"/>
<rect x="1216" y="158.37" width="58" height="13.45" fill="#d2e29c"/>
<rect x="1216" y="171.22" width="58" height="13.45" fill="#dcecb4"/>
<rect x="1216" y="184.07" width="58" height="13.45" fill="#e6fad0"/>
<rect x="1216" y="196.93" width="58" height="13.45" fill="#d4f0bc"/>
<rect x="1216" y="209.78" width="58" height="13.45" fill="#b8e6a4"/>
<rect x="1216" y="222.63" width="58" height="13.45" fill="#a0dc8e"/>
<rect x="1216" y="235.48" width="58" height="13.45" fill="#88cf7a"/>
<rect x="1216" y="248.33" width="58" height="13.45" fill="#70c068"/>
<rect x="1216" y="261.19" width="58" height="13.45" fill="#58b256"/>
<rect x="1216" y="274.04" width="58" height="13.45" fill="#44a648"/>
<rect x="1216" y="286.89" width="58" height="13.45" fill="#36983e"/>
<rect x="1216" y="299.74" width="58" height="13.45" fill="#2a8a38"/>
<rect x="1216" y="312.59" width="58" height="13.45" fill="#1f7c34"/>
<rect x="1216" y="325.44" width="58" height="13.45" fill="#167030"/>
<rect x="1216" y="338.30" width="58" height="13.45" fill="#0f652e"/>
<rect x="1216" y="351.15" width="58" height="13.45" fill="#0a5c2c"/>
<rect x="1216" y="364.00" width="58" height="13.77" fill="#00f7ff"/>
<rect x="1216" y="377.17" width="58" height="13.77" fill="#00e9ff"/>
<rect x="1216" y="390.33" width="58" height="13.77" fill="#00daff"/>
<rect x="1216" y="403.50" width="58" height="13.77" fill="#00cbff"/>
<rect x="1216" y="416.67" width="58" height="13.77" fill="#00bdff"/>
<rect x="1216" y="429.83" width="58" height="13.77" fill="#00aeff"/>
<rect x="1216" y="443.00" width="58" height="13.77" fill="#00a0ff"/>
<rect x="1216" y="456.17" width="58" height="13.77" fill="#0091ff"/>
<rect x="1216" y="469.33" width="58" height="13.77" fill="#0082ff"/>
<rect x="1216" y="482.50" width="58" height="13.77" fill="#0074ff"/>
<rect x="1216" y="495.67" width="58" height="13.77" fill="#0065ff"/>
<rect x="1216" y="508.83" width="58" height="13.77" fill="#0057ff"/>
<rect x="1216" y="522.00" width="58" height="13.77" fill="#0048ff"/>
<rect x="1216" y="535.17" width="58" height="13.77" fill="#0039ff"/>
<rect x="1216" y="548.33" width="58" height="13.77" fill="#002bff"/>
<rect x="1216" y="561.50" width="58" height="13.77" fill="#001cff"/>
<rect x="1216" y="574.67" width="58" height="13.77" fill="#000eff"/>
<rect x="1216" y="587.83" width="58" height="13.77" fill="#0000fe"/>
<rect x="1216" y="601.00" width="58" height="13.77" fill="#0000f3"/>
<rect x="1216" y="614.17" width="58" height="13.77" fill="#0101e8"/>
<rect x="1216" y="627.33" width="58" height="13.77" fill="#0101dd"/>
<rect x="1216" y="640.50" width="58" height="13.77" fill="#0202d2"/>
<rect x="1216" y="653.67" width="58" height="13.77" fill="#0202c7"/>
<rect x="1216" y="666.83" width="58" height="13.77" fill="#0303bc"/>
<rect x="1216" y="680.00" width="58" height="13.77" fill="#0303b1"/>
<rect x="1216" y="693.17" width="58" height="13.77" fill="#0404a6"/>
<rect x="1216" y="706.33" width="58" height="13.77" fill="#04049b"/>
<rect x="1216" y="719.50" width="58" height="13.77" fill="#05058f"/>
<rect x="1216" y="732.67" width="58" height="13.77" fill="#050584"/>
<rect x="1216" y="745.83" width="58" height="13.77" fill="#060679"/>
<rect x="1216" y="759.00" width="58" height="13.77" fill="#07076e"/>
<rect x="1216" y="772.17" width="58" height="13.77" fill="#070763"/>
<rect x="1216" y="785.33" width="58" height="13.77" fill="#080858"/>
<rect x="1216" y="798.50" width="58" height="13.77" fill="#08084d"/>
<rect x="1216" y="811.67" width="58" height="13.77" fill="#090942"/>
<rect x="1216" y="824.83" width="58" height="13.77" fill="#090937"/>
<rect x="1216" y="17" width="58" height="821" fill="none" stroke="#000" stroke-width="1.6"/>
<rect x="1888" y="17.00" width="54" height="13.45" fill="#6b2f00"/>
<rect x="1888" y="29.85" width="54" height="13.45" fill="#773d08"/>
<rect x="1888" y="42.70" width="54" height="13.45" fill="#7f4c12"/>
<rect x="1888" y="55.56" width="54" height="13.45" fill="#88601c"/>
<rect x="1888" y="68.41" width="54" height="13.45" fill="#907424"/>
<rect x="1888" y="81.26" width="54" height="13.45" fill="#9e8630"/>
<rect x="1888" y="94.11" width="54" height="13.45" fill="#a89a3a"/>
<rect x="1888" y="106.96" width="54" height="13.45" fill="#b2ac48"/>
<rect x="1888" y="119.81" width="54" height="13.45" fill="#b8b658"/>
<rect x="1888" y="132.67" width="54" height="13.45" fill="#c0c270"/>
<rect x="1888" y="145.52" width="54" height="13.45" fill="#c8d488"/>
<rect x="1888" y="158.37" width="54" height="13.45" fill="#d2e29c"/>
<rect x="1888" y="171.22" width="54" height="13.45" fill="#dcecb4"/>
<rect x="1888" y="184.07" width="54" height="13.45" fill="#e6fad0"/>
<rect x="1888" y="196.93" width="54" height="13.45" fill="#d4f0bc"/>
<rect x="1888" y="209.78" width="54" height="13.45" fill="#b8e6a4"/>
<rect x="1888" y="222.63" width="54" height="13.45" fill="#a0dc8e"/>
<rect x="1888" y="235.48" width="54" height="13.45" fill="#88cf7a"/>
<rect x="1888" y="248.33" width="54" height="13.45" fill="#70c068"/>
<rect x="1888" y="261.19" width="54" height="13.45" fill="#58b256"/>
<rect x="1888" y="274.04" width="54" height="13.45" fill="#44a648"/>
<rect x="1888" y="286.89" width="54" height="13.45" fill="#36983e"/>
<rect x="1888" y="299.74" width="54" height="13.45" fill="#2a8a38"/>
<rect x="1888" y="312.59" width="54" height="13.45" fill="#1f7c34"/>
<rect x="1888" y="325.44" width="54" height="13.45" fill="#167030"/>
<rect x="1888" y="338.30" width="54" height="13.45" fill="#0f652e"/>
<rect x="1888" y="351.15" width="54" height="13.45" fill="#0a5c2c"/>
<rect x="1888" y="364.00" width="54" height="13.77" fill="#00f7ff"/>
<rect x="1888" y="377.17" width="54" height="13.77" fill="#00e9ff"/>
<rect x="1888" y="390.33" width="54" height="13.77" fill="#00daff"/>
<rect x="1888" y="403.50" width="54" height="13.77" fill="#00cbff"/>
<rect x="1888" y="416.67" width="54" height="13.77" fill="#00bdff"/>
<rect x="1888" y="429.83" width="54" height="13.77" fill="#00aeff"/>
<rect x="1888" y="443.00" width="54" height="13.77" fill="#00a0ff"/>
<rect x="1888" y="456.17" width="54" height="13.77" fill="#0091ff"/>
<rect x="1888" y="469.33" width="54" height="13.77" fill="#0082ff"/>
<rect x="1888" y="482.50" width="54" height="13.77" fill="#0074ff"/>
<rect x="1888" y="495.67" width="54" height="13.77" fill="#0065ff"/>
<rect x="1888" y="508.83" width="54" height="13.77" fill="#0057ff"/>
<rect x="1888" y="522.00" width="54" height="13.77" fill="#0048ff"/>
<rect x="1888" y="535.17" width="54" height="13.77" fill="#0039ff"/>
<rect x="1888" y="548.33" width="54" height="13.77" fill="#002bff"/>
<rect x="1888" y="561.50" width="54" height="13.77" fill="#001cff"/>
<rect x="1888" y="574.67" width="54" height="13.77" fill="#000eff"/>
<rect x="1888" y="587.83" width="54" height="13.77" fill="#0000fe"/>
<rect x="1888" y="601.00" width="54" height="13.77" fill="#0000f3"/>
<rect x="1888" y="614.17" width="54" height="13.77" fill="#0101e8"/>
<rect x="1888" y="627.33" width="54" height="13.77" fill="#0101dd"/>
<rect x="1888" y="640.50" width="54" height="13.77" fill="#0202d2"/>
<rect x="1888" y="653.67" width="54" height="13.77" fill="#0202c7"/>
<rect x="1888" y="666.83" width="54" height="13.77" fill="#0303bc"/>
<rect x="1888" y="680.00" width="54" height="13.77" fill="#0303b1"/>
<rect x="1888" y="693.17" width="54" height="13.77" fill="#0404a6"/>
<rect x="1888" y="706.33" width="54" height="13.77" fill="#04049b"/>
<rect x="1888" y="719.50" width="54" height="13.77" fill="#05058f"/>
<rect x="1888" y="732.67" width="54" height="13.77" fill="#050584"/>
<rect x="1888" y="745.83" width="54" height="13.77" fill="#060679"/>
<rect x="1888" y="759.00" width="54" height="13.77" fill="#07076e"/>
<rect x="1888" y="772.17" width="54" height="13.77" fill="#070763"/>
<rect x="1888" y="785.33" width="54" height="13.77" fill="#080858"/>
<rect x="1888" y="798.50" width="54" height="13.77" fill="#08084d"/>
<rect x="1888" y="811.67" width="54" height="13.77" fill="#090942"/>
<rect x="1888" y="824.83" width="54" height="13.77" fill="#090937"/>
<rect x="1888" y="17" width="54" height="821" fill="none" stroke="#000" stroke-width="1.6"/>
<rect x="714" y="922.00" width="59" height="8.79" fill="#6b2f00"/>
<rect x="714" y="930.19" width="59" height="8.79" fill="#773d08"/>
<rect x="714" y="938.37" width="59" height="8.79" fill="#7f4c12"/>
<rect x="714" y="946.56" width="59" height="8.79" fill="#88601c"/>
<rect x="714" y="954.74" width="59" height="8.79" fill="#907424"/>
<rect x="714" y="962.93" width="59" height="8.79" fill="#9e8630"/>
<rect x="714" y="971.11" width="59" height="8.79" fill="#a89a3a"/>
<rect x="714" y="979.30" width="59" height="8.79" fill="#b2ac48"/>
<rect x="714" y="987.48" width="59" height="8.79" fill="#b8b658"/>
<rect x="714" y="995.67" width="59" height="8.79" fill="#c0c270"/>
<rect x="714" y="1003.85" width="59" height="8.79" fill="#c8d488"/>
<rect x="714" y="1012.04" width="59" height="8.79" fill="#d2e29c"/>
<rect x="714" y="1020.22" width="59" height="8.79" fill="#dcecb4"/>
<rect x="714" y="1028.41" width="59" height="8.79" fill="#e6fad0"/>
<rect x="714" y="1036.59" width="59" height="8.79" fill="#d4f0bc"/>
<rect x="714" y="1044.78" width="59" height="8.79" fill="#b8e6a4"/>
<rect x="714" y="1052.96" width="59" height="8.79" fill="#a0dc8e"/>
<rect x="714" y="1061.15" width="59" height="8.79" fill="#88cf7a"/>
<rect x="714" y="1069.33" width="59" height="8.79" fill="#70c068"/>
<rect x="714" y="1077.52" width="59" height="8.79" fill="#58b256"/>
<rect x="714" y="1085.70" width="59" height="8.79" fill="#44a648"/>
<rect x="714" y="1093.89" width="59" height="8.79" fill="#36983e"/>
<rect x="714" y="1102.07" width="59" height="8.79" fill="#2a8a38"/>
<rect x="714" y="1110.26" width="59" height="8.79" fill="#1f7c34"/>
<rect x="714" y="1118.44" width="59" height="8.79" fill="#167030"/>
<rect x="714" y="1126.63" width="59" height="8.79" fill="#0f652e"/>
<rect x="714" y="1134.81" width="59" height="8.79" fill="#0a5c2c"/>
<rect x="714" y="1143.00" width="59" height="13.64" fill="#00f3ff"/>
<rect x="714" y="1156.04" width="59" height="13.64" fill="#00dcff"/>
<rect x="714" y="1169.09" width="59" height="13.64" fill="#00c5ff"/>
<rect x="714" y="1182.13" width="59" height="13.64" fill="#00aeff"/>
<rect x="714" y="1195.17" width="59" height="13.64" fill="#0098ff"/>
<rect x="714" y="1208.22" width="59" height="13.64" fill="#0081ff"/>
<rect x="714" y="1221.26" width="59" height="13.64" fill="#006aff"/>
<rect x="714" y="1234.30" width="59" height="13.64" fill="#0053ff"/>
<rect x="714" y="1247.35" width="59" height="13.64" fill="#003cff"/>
<rect x="714" y="1260.39" width="59" height="13.64" fill="#0025ff"/>
<rect x="714" y="1273.43" width="59" height="13.64" fill="#000eff"/>
<rect x="714" y="1286.48" width="59" height="13.64" fill="#0000f9"/>
<rect x="714" y="1299.52" width="59" height="13.64" fill="#0101e7"/>
<rect x="714" y="1312.57" width="59" height="13.64" fill="#0101d6"/>
<rect x="714" y="1325.61" width="59" height="13.64" fill="#0202c5"/>
<rect x="714" y="1338.65" width="59" height="13.64" fill="#0303b3"/>
<rect x="714" y="1351.70" width="59" height="13.64" fill="#0404a2"/>
<rect x="714" y="1364.74" width="59" height="13.64" fill="#050591"/>
<rect x="714" y="1377.78" width="59" height="13.64" fill="#06067f"/>
<rect x="714" y="1390.83" width="59" height="13.64" fill="#07076e"/>
<rect x="714" y="1403.87" width="59" height="13.64" fill="#07075d"/>
<rect x="714" y="1416.91" width="59" height="13.64" fill="#08084b"/>
<rect x="714" y="1429.96" width="59" height="13.64" fill="#09093a"/>
<rect x="714" y="922" width="59" height="521" fill="none" stroke="#000" stroke-width="1.6"/>
<rect x="1880" y="922.00" width="59" height="8.75" fill="#6b2f00"/>
<rect x="1880" y="930.15" width="59" height="8.75" fill="#773d08"/>
<rect x="1880" y="938.30" width="59" height="8.75" fill="#7f4c12"/>
<rect x="1880" y="946.44" width="59" height="8.75" fill="#88601c"/>
<rect x="1880" y="954.59" width="59" height="8.75" fill="#907424"/>
<rect x="1880" y="962.74" width="59" height="8.75" fill="#9e8630"/>
<rect x="1880" y="970.89" width="59" height="8.75" fill="#a89a3a"/>
<rect x="1880" y="979.04" width="59" height="8.75" fill="#b2ac48"/>
<rect x="1880" y="987.19" width="59" height="8.75" fill="#b8b658"/>
<rect x="1880" y="995.33" width="59" height="8.75" fill="#c0c270"/>
<rect x="1880" y="1003.48" width="59" height="8.75" fill="#c8d488"/>
<rect x="1880" y="1011.63" width="59" height="8.75" fill="#d2e29c"/>
<rect x="1880" y="1019.78" width="59" height="8.75" fill="#dcecb4"/>
<rect x="1880" y="1027.93" width="59" height="8.75" fill="#e6fad0"/>
<rect x="1880" y="1036.07" width="59" height="8.75" fill="#d4f0bc"/>
<rect x="1880" y="1044.22" width="59" height="8.75" fill="#b8e6a4"/>
<rect x="1880" y="1052.37" width="59" height="8.75" fill="#a0dc8e"/>
<rect x="1880" y="1060.52" width="59" height="8.75" fill="#88cf7a"/>
<rect x="1880" y="1068.67" width="59" height="8.75" fill="#70c068"/>
<rect x="1880" y="1076.81" width="59" height="8.75" fill="#58b256"/>
<rect x="1880" y="1084.96" width="59" height="8.75" fill="#44a648"/>
<rect x="1880" y="1093.11" width="59" height="8.75" fill="#36983e"/>
<rect x="1880" y="1101.26" width="59" height="8.75" fill="#2a8a38"/>
<rect x="1880" y="1109.41" width="59" height="8.75" fill="#1f7c34"/>
<rect x="1880" y="1117.56" width="59" height="8.75" fill="#167030"/>
<rect x="1880" y="1125.70" width="59" height="8.75" fill="#0f652e"/>
<rect x="1880" y="1133.85" width="59" height="8.75" fill="#0a5c2c"/>
<rect x="1880" y="1142.00" width="59" height="13.64" fill="#00f3ff"/>
<rect x="1880" y="1155.04" width="59" height="13.64" fill="#00dcff"/>
<rect x="1880" y="1168.09" width="59" height="13.64" fill="#00c5ff"/>
<rect x="1880" y="1181.13" width="59" height="13.64" fill="#00aeff"/>
<rect x="1880" y="1194.17" width="59" height="13.64" fill="#0098ff"/>
<rect x="1880" y="1207.22" width="59" height="13.64" fill="#0081ff"/>
<rect x="1880" y="1220.26" width="59" height="13.64" fill="#006aff"/>
<rect x="1880" y="1233.30" width="59" height="13.64" fill="#0053ff"/>
<rect x="1880" y="1246.35" width="59" height="13.64" fill="#003cff"/>
<rect x="1880" y="1259.39" width="59" height="13.64" fill="#0025ff"/>
<rect x="1880" y="1272.43" width="59" height="13.64" fill="#000eff"/>
<rect x="1880" y="1285.48" width="59" height="13.64" fill="#0000f9"/>
<rect x="1880" y="1298.52" width="59" height="13.64" fill="#0101e7"/>
<rect x="1880" y="1311.57" width="59" height="13.64" fill="#0101d6"/>
<rect x="1880" y="1324.61" width="59" height="13.64" fill="#0202c5"/>
<rect x="1880" y="1337.65" width="59" height="13.64" fill="#0303b3"/>
<rect x="1880" y="1350.70" width="59" height="13.64" fill="#0404a2"/>
<rect x="1880" y="1363.74" width="59" height="13.64" fill="#050591"/>
<rect x="1880" y="1376.78" width="59" height="13.64" fill="#06067f"/>
<rect x="1880" y="1389.83" width="59" height="13.64" fill="#07076e"/>
<rect x="1880" y="1402.87" width="59" height="13.64" fill="#07075d"/>
<rect x="1880" y="1415.91" width="59" height="13.64" fill="#08084b"/>
<rect x="1880" y="1428.96" width="59" height="13.64" fill="#09093a"/>
<rect x="1880" y="922" width="59" height="520" fill="none" stroke="#000" stroke-width="1.6"/>
<path d="M523 17.0h8M582 17.0h-8" stroke="#000" stroke-width="1.6"/>
<text x="589" y="29.7" class="t">6000<tspan dx="3.5" style="font-size:34px">m</tspan></text>
<path d="M523 132.7h8M582 132.7h-8" stroke="#000" stroke-width="1.6"/>
<text x="589" y="145.4" class="t">4000</text>
<path d="M523 248.3h8M582 248.3h-8" stroke="#000" stroke-width="1.6"/>
<text x="589" y="261.0" class="t">2000</text>
<path d="M523 364.0h8M582 364.0h-8" stroke="#000" stroke-width="1.6"/>
<text x="589" y="376.7" class="t">0</text>
<path d="M523 478.9h8M582 478.9h-8" stroke="#000" stroke-width="1.6"/>
<text x="589" y="491.6" class="t">-2000</text>
<path d="M523 593.8h8M582 593.8h-8" stroke="#000" stroke-width="1.6"/>
<text x="589" y="606.5" class="t">-4000</text>
<path d="M523 708.7h8M582 708.7h-8" stroke="#000" stroke-width="1.6"/>
<text x="589" y="721.4" class="t">-6000</text>
<path d="M523 823.6h8M582 823.6h-8" stroke="#000" stroke-width="1.6"/>
<text x="589" y="836.3" class="t">-8000</text>
<path d="M1216 17.0h8M1274 17.0h-8" stroke="#000" stroke-width="1.6"/>
<text x="1281" y="29.7" class="t">6000<tspan dx="3.5" style="font-size:34px">m</tspan></text>
<path d="M1216 132.7h8M1274 132.7h-8" stroke="#000" stroke-width="1.6"/>
<text x="1281" y="145.4" class="t">4000</text>
<path d="M1216 248.3h8M1274 248.3h-8" stroke="#000" stroke-width="1.6"/>
<text x="1281" y="261.0" class="t">2000</text>
<path d="M1216 364.0h8M1274 364.0h-8" stroke="#000" stroke-width="1.6"/>
<text x="1281" y="376.7" class="t">0</text>
<path d="M1216 478.9h8M1274 478.9h-8" stroke="#000" stroke-width="1.6"/>
<text x="1281" y="491.6" class="t">-2000</text>
<path d="M1216 593.8h8M1274 593.8h-8" stroke="#000" stroke-width="1.6"/>
<text x="1281" y="606.5" class="t">-4000</text>
<path d="M1216 708.7h8M1274 708.7h-8" stroke="#000" stroke-width="1.6"/>
<text x="1281" y="721.4" class="t">-6000</text>
<path d="M1216 823.6h8M1274 823.6h-8" stroke="#000" stroke-width="1.6"/>
<text x="1281" y="836.3" class="t">-8000</text>
<path d="M1888 17.0h8M1942 17.0h-8" stroke="#000" stroke-width="1.6"/>
<text x="1949" y="29.7" class="t">1500<tspan dx="3.5" style="font-size:34px">m</tspan></text>
<path d="M1888 132.7h8M1942 132.7h-8" stroke="#000" stroke-width="1.6"/>
<text x="1949" y="145.4" class="t">1000</text>
<path d="M1888 248.3h8M1942 248.3h-8" stroke="#000" stroke-width="1.6"/>
<text x="1949" y="261.0" class="t">500</text>
<path d="M1888 364.0h8M1942 364.0h-8" stroke="#000" stroke-width="1.6"/>
<text x="1949" y="376.7" class="t">0</text>
<path d="M1888 478.9h8M1942 478.9h-8" stroke="#000" stroke-width="1.6"/>
<text x="1949" y="491.6" class="t">-500</text>
<path d="M1888 593.9h8M1942 593.9h-8" stroke="#000" stroke-width="1.6"/>
<text x="1949" y="606.6" class="t">-1000</text>
<path d="M1888 708.8h8M1942 708.8h-8" stroke="#000" stroke-width="1.6"/>
<text x="1949" y="721.5" class="t">-1500</text>
<path d="M1888 823.7h8M1942 823.7h-8" stroke="#000" stroke-width="1.6"/>
<text x="1949" y="836.4" class="t">-2000</text>
<path d="M714 922.0h8M773 922.0h-8" stroke="#000" stroke-width="1.6"/>
<text x="780" y="934.7" class="t">400<tspan dx="3.5" style="font-size:34px">m</tspan></text>
<path d="M714 1032.5h8M773 1032.5h-8" stroke="#000" stroke-width="1.6"/>
<text x="780" y="1045.2" class="t">200</text>
<path d="M714 1143.0h8M773 1143.0h-8" stroke="#000" stroke-width="1.6"/>
<text x="780" y="1155.7" class="t">0</text>
<path d="M714 1253.1h8M773 1253.1h-8" stroke="#000" stroke-width="1.6"/>
<text x="780" y="1265.8" class="t">-200</text>
<path d="M714 1363.2h8M773 1363.2h-8" stroke="#000" stroke-width="1.6"/>
<text x="780" y="1375.9" class="t">-400</text>
<path d="M1880 1025.6h8M1939 1025.6h-8" stroke="#000" stroke-width="1.6"/>
<text x="1946" y="1038.3" class="t">20<tspan dx="3.5" style="font-size:34px">m</tspan></text>
<path d="M1880 1142.0h8M1939 1142.0h-8" stroke="#000" stroke-width="1.6"/>
<text x="1946" y="1154.7" class="t">0</text>
<path d="M1880 1258.3h8M1939 1258.3h-8" stroke="#000" stroke-width="1.6"/>
<text x="1946" y="1271.0" class="t">-20</text>
<path d="M1880 1374.6h8M1939 1374.6h-8" stroke="#000" stroke-width="1.6"/>
<text x="1946" y="1387.3" class="t">-40</text>
<text x="157.0" y="77.2" class="b">Grid 1</text>
<rect x="249.5" y="272.0" width="137.5" height="291.6" fill="none" stroke="#000" stroke-width="5.0"/>
<text x="205.0" y="266.0" class="r">Grid 2</text>
<circle cx="403.6" cy="114.7" r="7.8" fill="#ff0000" stroke="#000" stroke-width="0.8"/>
<text x="396.0" y="152.5" class="s">Caldera</text>
<circle cx="356.3" cy="378.0" r="7.8" fill="#ff0000" stroke="#000" stroke-width="0.8"/>
<text x="349.8" y="418.0" class="s">Coquimbo</text>
<circle cx="331.0" cy="660.3" r="7.8" fill="#ff0000" stroke="#000" stroke-width="0.8"/>
<text x="340.0" y="683.8" class="s">Valparaiso</text>
<text x="817.0" y="59.5" class="b">Grid 2</text>
<rect x="981.0" y="118.8" width="128.3" height="293.9" fill="none" stroke="#000" stroke-width="5.0"/>
<text x="943.0" y="104.0" class="r">Grid 3</text>
<circle cx="1057.3" cy="129.6" r="7.8" fill="#ff0000" stroke="#000" stroke-width="0.8"/>
<text x="1046.0" y="118.8" class="s">Pta Choros</text>
<circle cx="1087.5" cy="315.0" r="7.8" fill="#ff0000" stroke="#000" stroke-width="0.8"/>
<text x="1075.0" y="345.0" class="s">Coquimbo</text>
<circle cx="1047.9" cy="391.0" r="7.8" fill="#ff0000" stroke="#000" stroke-width="0.8"/>
<text x="1064.0" y="400.5" class="s">Tongoy</text>
<circle cx="1002.0" cy="418.0" r="7.8" fill="#ff0000" stroke="#000" stroke-width="0.8"/>
<text x="1008.0" y="447.6" class="s">Cal Totoral</text>
<circle cx="1043.0" cy="816.4" r="7.8" fill="#ff0000" stroke="#000" stroke-width="0.8"/>
<text x="1051.0" y="804.0" class="s">Los Vilos</text>
<text x="1520.0" y="57.0" class="b">Grid 3</text>
<rect x="1736.8" y="458.7" width="99.4" height="128.3" fill="none" stroke="#000" stroke-width="5.0"/>
<text x="1701.0" y="449.0" class="r">Grid 4</text>
<circle cx="1700.5" cy="44.9" r="7.8" fill="#ff0000" stroke="#000" stroke-width="0.8"/>
<text x="1706.0" y="40.0" class="s">Pta Choros</text>
<circle cx="1785.0" cy="562.2" r="7.8" fill="#ff0000" stroke="#000" stroke-width="0.8"/>
<text x="1750.0" y="585.7" class="s">Coquimbo</text>
<circle cx="1672.7" cy="774.8" r="7.8" fill="#ff0000" stroke="#000" stroke-width="0.8"/>
<text x="1685.0" y="798.3" class="s">Tongoy</text>
<text x="352.0" y="976.0" class="b">Grid 4</text>
<rect x="436.8" y="1295.8" width="89.4" height="59.0" fill="none" stroke="#000" stroke-width="5.0"/>
<text x="468.0" y="1279.6" class="r">Grid 5</text>
<text x="1207.0" y="968.2" class="b">Grid 5</text>
<text x="1363.0" y="1101.7" class="a">Coastal road</text>
<path d="M1365.4 1111.4L1336.1 1186.5" stroke="#000" stroke-width="3.6"/><path d="M1335.4 1188.4L1334.0 1178.2L1343.3 1181.8Z" fill="#000" stroke="#000" stroke-width="2" stroke-linejoin="round"/>
<text x="1357.0" y="1245.5" class="a">Wetland</text>
<text x="1290.0" y="1384.8" class="a">Railway</text>
<path d="M1393.5 1352.0L1355.6 1263.8" stroke="#000" stroke-width="3.6"/><path d="M1354.8 1262.0L1362.9 1268.3L1353.8 1272.2Z" fill="#000" stroke="#000" stroke-width="2" stroke-linejoin="round"/>
<path d="M1412.8 1358.7L1485.5 1335.1" stroke="#000" stroke-width="3.6"/><path d="M1487.4 1334.5L1480.4 1342.0L1477.3 1332.5Z" fill="#000" stroke="#000" stroke-width="2" stroke-linejoin="round"/>
<text x="1648.0" y="1317.0" class="a">River</text>
<path d="M1638.4 1305.5L1555.2 1298.9" stroke="#000" stroke-width="3.6"/><path d="M1553.2 1298.7L1562.6 1294.4L1561.8 1304.4Z" fill="#000" stroke="#000" stroke-width="2" stroke-linejoin="round"/>
<text transform="translate(32,427) rotate(-90)" class="lab">Latitude</text>
<text transform="translate(133.6,1182) rotate(-90)" class="lab">Latitude</text>
<text x="466" y="1528" class="lab">Longitude</text>
<text x="1445" y="1526" class="lab">Longitude</text>
</svg></body></html>
